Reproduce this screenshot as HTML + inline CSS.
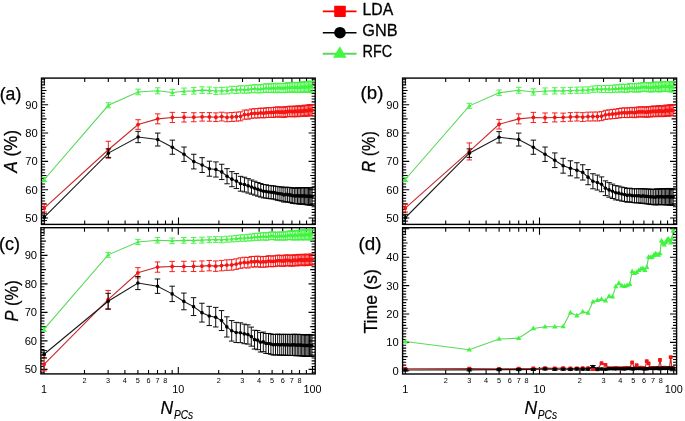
<!DOCTYPE html>
<html><head><meta charset="utf-8"><style>
html,body{margin:0;padding:0;background:#fff;}
body{width:685px;height:421px;overflow:hidden;font-family:"Liberation Sans", sans-serif;}
svg{display:block;filter:blur(0.35px);}
</style></head><body>
<svg width="685" height="421" viewBox="0 0 685 421" font-family='"Liberation Sans", sans-serif'>
<rect width="685" height="421" fill="#fff"/>
<path d="M322.8 11.4H356.5" stroke="#f00" stroke-width="1.6"/>
<rect x="334.2" y="5.8" width="11.6" height="11.2" rx="0.8" fill="#f00"/>
<path d="M322.8 32.7H356.5" stroke="#000" stroke-width="1.6"/>
<circle cx="340" cy="32.7" r="5.8" fill="#000"/>
<path d="M322.8 53.7H356.5" stroke="#5ad85a" stroke-width="2"/>
<path d="M339.8 46.3L346.5 57.7H333.1Z" fill="#40f840"/>
<g stroke="#000" stroke-width="0.3">
<text x="362.6" y="15.4" font-size="17" textLength="30.7" lengthAdjust="spacingAndGlyphs">LDA</text>
<text x="362.3" y="35.6" font-size="17" textLength="35.3" lengthAdjust="spacingAndGlyphs">GNB</text>
<text x="362.6" y="56.7" font-size="17" textLength="29.6" lengthAdjust="spacingAndGlyphs">RFC</text>
</g>
<text x="-0.3" y="99.6" font-size="18.5" textLength="21.6" lengthAdjust="spacingAndGlyphs" stroke="#000" stroke-width="0.25">(a)</text>
<text x="360.6" y="99.3" font-size="18.5" textLength="22.8" lengthAdjust="spacingAndGlyphs" stroke="#000" stroke-width="0.25">(b)</text>
<text x="-0.9" y="250" font-size="18.5" textLength="21" lengthAdjust="spacingAndGlyphs" stroke="#000" stroke-width="0.25">(c)</text>
<text x="358.6" y="250.4" font-size="18.5" textLength="23" lengthAdjust="spacingAndGlyphs" stroke="#000" stroke-width="0.25">(d)</text>
<text transform="translate(16.8 172.8) rotate(-90)" font-size="17.5" textLength="42.8" lengthAdjust="spacingAndGlyphs" stroke="#000" stroke-width="0.25"><tspan font-style="italic">A</tspan> (%)</text>
<text transform="translate(375.4 172.4) rotate(-90)" font-size="17.5" textLength="41.2" lengthAdjust="spacingAndGlyphs" stroke="#000" stroke-width="0.25"><tspan font-style="italic">R</tspan> (%)</text>
<text transform="translate(17.6 321.4) rotate(-90)" font-size="17.5" textLength="41" lengthAdjust="spacingAndGlyphs" stroke="#000" stroke-width="0.25"><tspan font-style="italic">P</tspan> (%)</text>
<text transform="translate(376.5 333.6) rotate(-90)" font-size="17.5" textLength="64.4" lengthAdjust="spacingAndGlyphs" stroke="#000" stroke-width="0.25">Time (s)</text>
<text x="160.6" y="414.1" font-size="17.5" font-style="italic" stroke="#000" stroke-width="0.2">N</text>
<text x="174" y="419.3" font-size="12.2" font-style="italic" textLength="19.2" lengthAdjust="spacingAndGlyphs" stroke="#000" stroke-width="0.15">PCs</text>
<text x="524.4" y="414.2" font-size="17.5" font-style="italic" stroke="#000" stroke-width="0.2">N</text>
<text x="537.8" y="419.4" font-size="12.2" font-style="italic" textLength="19.2" lengthAdjust="spacingAndGlyphs" stroke="#000" stroke-width="0.15">PCs</text>
<path d="M41.5 223.69h3.6M315.2 223.69h-3.6M41.5 220.85h3.6M315.2 220.85h-3.6M41.5 218.02h6.6M315.2 218.02h-6.6M41.5 215.19h3.6M315.2 215.19h-3.6M41.5 212.35h3.6M315.2 212.35h-3.6M41.5 209.52h3.6M315.2 209.52h-3.6M41.5 206.69h3.6M315.2 206.69h-3.6M41.5 203.86h5M315.2 203.86h-5M41.5 201.02h3.6M315.2 201.02h-3.6M41.5 198.19h3.6M315.2 198.19h-3.6M41.5 195.36h3.6M315.2 195.36h-3.6M41.5 192.52h3.6M315.2 192.52h-3.6M41.5 189.69h6.6M315.2 189.69h-6.6M41.5 186.86h3.6M315.2 186.86h-3.6M41.5 184.02h3.6M315.2 184.02h-3.6M41.5 181.19h3.6M315.2 181.19h-3.6M41.5 178.36h3.6M315.2 178.36h-3.6M41.5 175.53h5M315.2 175.53h-5M41.5 172.69h3.6M315.2 172.69h-3.6M41.5 169.86h3.6M315.2 169.86h-3.6M41.5 167.03h3.6M315.2 167.03h-3.6M41.5 164.19h3.6M315.2 164.19h-3.6M41.5 161.36h6.6M315.2 161.36h-6.6M41.5 158.53h3.6M315.2 158.53h-3.6M41.5 155.69h3.6M315.2 155.69h-3.6M41.5 152.86h3.6M315.2 152.86h-3.6M41.5 150.03h3.6M315.2 150.03h-3.6M41.5 147.19h5M315.2 147.19h-5M41.5 144.36h3.6M315.2 144.36h-3.6M41.5 141.53h3.6M315.2 141.53h-3.6M41.5 138.7h3.6M315.2 138.7h-3.6M41.5 135.86h3.6M315.2 135.86h-3.6M41.5 133.03h6.6M315.2 133.03h-6.6M41.5 130.2h3.6M315.2 130.2h-3.6M41.5 127.36h3.6M315.2 127.36h-3.6M41.5 124.53h3.6M315.2 124.53h-3.6M41.5 121.7h3.6M315.2 121.7h-3.6M41.5 118.87h5M315.2 118.87h-5M41.5 116.03h3.6M315.2 116.03h-3.6M41.5 113.2h3.6M315.2 113.2h-3.6M41.5 110.37h3.6M315.2 110.37h-3.6M41.5 107.53h3.6M315.2 107.53h-3.6M41.5 104.7h6.6M315.2 104.7h-6.6M41.5 101.87h3.6M315.2 101.87h-3.6M41.5 99.03h3.6M315.2 99.03h-3.6M41.5 96.2h3.6M315.2 96.2h-3.6M41.5 93.37h3.6M315.2 93.37h-3.6M41.5 90.53h5M315.2 90.53h-5M41.5 87.7h3.6M315.2 87.7h-3.6M41.5 84.87h3.6M315.2 84.87h-3.6M41.5 82.04h3.6M315.2 82.04h-3.6M41.5 79.2h3.6M315.2 79.2h-3.6M44.3 224.4v-7M44.3 78.1v7M84.7 224.4v-4M84.7 78.1v4M108.33 224.4v-4M108.33 78.1v4M125.1 224.4v-4M125.1 78.1v4M138.1 224.4v-4M138.1 78.1v4M148.73 224.4v-4M148.73 78.1v4M157.71 224.4v-4M157.71 78.1v4M165.49 224.4v-4M165.49 78.1v4M172.36 224.4v-4M172.36 78.1v4M178.5 224.4v-7M178.5 78.1v7M218.9 224.4v-4M218.9 78.1v4M242.53 224.4v-4M242.53 78.1v4M259.3 224.4v-4M259.3 78.1v4M272.3 224.4v-4M272.3 78.1v4M282.93 224.4v-4M282.93 78.1v4M291.91 224.4v-4M291.91 78.1v4M299.69 224.4v-4M299.69 78.1v4M306.56 224.4v-4M306.56 78.1v4M312.7 224.4v-7M312.7 78.1v7" stroke="#000" stroke-width="1.1" fill="none"/>
<rect x="41.5" y="78.1" width="273.7" height="146.3" fill="none" stroke="#000" stroke-width="1.4"/>
<text x="37.7" y="222.02" font-size="11.2" text-anchor="end">50</text>
<text x="37.7" y="193.69" font-size="11.2" text-anchor="end">60</text>
<text x="37.7" y="165.36" font-size="11.2" text-anchor="end">70</text>
<text x="37.7" y="137.03" font-size="11.2" text-anchor="end">80</text>
<text x="37.7" y="108.7" font-size="11.2" text-anchor="end">90</text>
<path d="M402.6 223.69h3.6M676.6 223.69h-3.6M402.6 220.85h3.6M676.6 220.85h-3.6M402.6 218.02h6.6M676.6 218.02h-6.6M402.6 215.19h3.6M676.6 215.19h-3.6M402.6 212.35h3.6M676.6 212.35h-3.6M402.6 209.52h3.6M676.6 209.52h-3.6M402.6 206.69h3.6M676.6 206.69h-3.6M402.6 203.86h5M676.6 203.86h-5M402.6 201.02h3.6M676.6 201.02h-3.6M402.6 198.19h3.6M676.6 198.19h-3.6M402.6 195.36h3.6M676.6 195.36h-3.6M402.6 192.52h3.6M676.6 192.52h-3.6M402.6 189.69h6.6M676.6 189.69h-6.6M402.6 186.86h3.6M676.6 186.86h-3.6M402.6 184.02h3.6M676.6 184.02h-3.6M402.6 181.19h3.6M676.6 181.19h-3.6M402.6 178.36h3.6M676.6 178.36h-3.6M402.6 175.53h5M676.6 175.53h-5M402.6 172.69h3.6M676.6 172.69h-3.6M402.6 169.86h3.6M676.6 169.86h-3.6M402.6 167.03h3.6M676.6 167.03h-3.6M402.6 164.19h3.6M676.6 164.19h-3.6M402.6 161.36h6.6M676.6 161.36h-6.6M402.6 158.53h3.6M676.6 158.53h-3.6M402.6 155.69h3.6M676.6 155.69h-3.6M402.6 152.86h3.6M676.6 152.86h-3.6M402.6 150.03h3.6M676.6 150.03h-3.6M402.6 147.19h5M676.6 147.19h-5M402.6 144.36h3.6M676.6 144.36h-3.6M402.6 141.53h3.6M676.6 141.53h-3.6M402.6 138.7h3.6M676.6 138.7h-3.6M402.6 135.86h3.6M676.6 135.86h-3.6M402.6 133.03h6.6M676.6 133.03h-6.6M402.6 130.2h3.6M676.6 130.2h-3.6M402.6 127.36h3.6M676.6 127.36h-3.6M402.6 124.53h3.6M676.6 124.53h-3.6M402.6 121.7h3.6M676.6 121.7h-3.6M402.6 118.87h5M676.6 118.87h-5M402.6 116.03h3.6M676.6 116.03h-3.6M402.6 113.2h3.6M676.6 113.2h-3.6M402.6 110.37h3.6M676.6 110.37h-3.6M402.6 107.53h3.6M676.6 107.53h-3.6M402.6 104.7h6.6M676.6 104.7h-6.6M402.6 101.87h3.6M676.6 101.87h-3.6M402.6 99.03h3.6M676.6 99.03h-3.6M402.6 96.2h3.6M676.6 96.2h-3.6M402.6 93.37h3.6M676.6 93.37h-3.6M402.6 90.53h5M676.6 90.53h-5M402.6 87.7h3.6M676.6 87.7h-3.6M402.6 84.87h3.6M676.6 84.87h-3.6M402.6 82.04h3.6M676.6 82.04h-3.6M402.6 79.2h3.6M676.6 79.2h-3.6M405.3 224.4v-7M405.3 78.1v7M445.7 224.4v-4M445.7 78.1v4M469.33 224.4v-4M469.33 78.1v4M486.1 224.4v-4M486.1 78.1v4M499.1 224.4v-4M499.1 78.1v4M509.73 224.4v-4M509.73 78.1v4M518.71 224.4v-4M518.71 78.1v4M526.49 224.4v-4M526.49 78.1v4M533.36 224.4v-4M533.36 78.1v4M539.5 224.4v-7M539.5 78.1v7M579.9 224.4v-4M579.9 78.1v4M603.53 224.4v-4M603.53 78.1v4M620.3 224.4v-4M620.3 78.1v4M633.3 224.4v-4M633.3 78.1v4M643.93 224.4v-4M643.93 78.1v4M652.91 224.4v-4M652.91 78.1v4M660.69 224.4v-4M660.69 78.1v4M667.56 224.4v-4M667.56 78.1v4M673.7 224.4v-7M673.7 78.1v7" stroke="#000" stroke-width="1.1" fill="none"/>
<rect x="402.6" y="78.1" width="274" height="146.3" fill="none" stroke="#000" stroke-width="1.4"/>
<text x="398.8" y="222.02" font-size="11.2" text-anchor="end">50</text>
<text x="398.8" y="193.69" font-size="11.2" text-anchor="end">60</text>
<text x="398.8" y="165.36" font-size="11.2" text-anchor="end">70</text>
<text x="398.8" y="137.03" font-size="11.2" text-anchor="end">80</text>
<text x="398.8" y="108.7" font-size="11.2" text-anchor="end">90</text>
<path d="M40.9 372.25h3.6M315.2 372.25h-3.6M40.9 369.4h6.6M315.2 369.4h-6.6M40.9 366.55h3.6M315.2 366.55h-3.6M40.9 363.7h3.6M315.2 363.7h-3.6M40.9 360.85h3.6M315.2 360.85h-3.6M40.9 358h3.6M315.2 358h-3.6M40.9 355.15h5M315.2 355.15h-5M40.9 352.3h3.6M315.2 352.3h-3.6M40.9 349.45h3.6M315.2 349.45h-3.6M40.9 346.6h3.6M315.2 346.6h-3.6M40.9 343.75h3.6M315.2 343.75h-3.6M40.9 340.9h6.6M315.2 340.9h-6.6M40.9 338.05h3.6M315.2 338.05h-3.6M40.9 335.2h3.6M315.2 335.2h-3.6M40.9 332.35h3.6M315.2 332.35h-3.6M40.9 329.5h3.6M315.2 329.5h-3.6M40.9 326.65h5M315.2 326.65h-5M40.9 323.8h3.6M315.2 323.8h-3.6M40.9 320.95h3.6M315.2 320.95h-3.6M40.9 318.1h3.6M315.2 318.1h-3.6M40.9 315.25h3.6M315.2 315.25h-3.6M40.9 312.4h6.6M315.2 312.4h-6.6M40.9 309.55h3.6M315.2 309.55h-3.6M40.9 306.7h3.6M315.2 306.7h-3.6M40.9 303.85h3.6M315.2 303.85h-3.6M40.9 301h3.6M315.2 301h-3.6M40.9 298.15h5M315.2 298.15h-5M40.9 295.3h3.6M315.2 295.3h-3.6M40.9 292.45h3.6M315.2 292.45h-3.6M40.9 289.6h3.6M315.2 289.6h-3.6M40.9 286.75h3.6M315.2 286.75h-3.6M40.9 283.9h6.6M315.2 283.9h-6.6M40.9 281.05h3.6M315.2 281.05h-3.6M40.9 278.2h3.6M315.2 278.2h-3.6M40.9 275.35h3.6M315.2 275.35h-3.6M40.9 272.5h3.6M315.2 272.5h-3.6M40.9 269.65h5M315.2 269.65h-5M40.9 266.8h3.6M315.2 266.8h-3.6M40.9 263.95h3.6M315.2 263.95h-3.6M40.9 261.1h3.6M315.2 261.1h-3.6M40.9 258.25h3.6M315.2 258.25h-3.6M40.9 255.4h6.6M315.2 255.4h-6.6M40.9 252.55h3.6M315.2 252.55h-3.6M40.9 249.7h3.6M315.2 249.7h-3.6M40.9 246.85h3.6M315.2 246.85h-3.6M40.9 244h3.6M315.2 244h-3.6M40.9 241.15h5M315.2 241.15h-5M40.9 238.3h3.6M315.2 238.3h-3.6M40.9 235.45h3.6M315.2 235.45h-3.6M40.9 232.6h3.6M315.2 232.6h-3.6M40.9 229.75h3.6M315.2 229.75h-3.6M44.1 373.9v-7M44.1 227.7v7M84.5 373.9v-4M84.5 227.7v4M108.13 373.9v-4M108.13 227.7v4M124.9 373.9v-4M124.9 227.7v4M137.9 373.9v-4M137.9 227.7v4M148.53 373.9v-4M148.53 227.7v4M157.51 373.9v-4M157.51 227.7v4M165.29 373.9v-4M165.29 227.7v4M172.16 373.9v-4M172.16 227.7v4M178.3 373.9v-7M178.3 227.7v7M218.7 373.9v-4M218.7 227.7v4M242.33 373.9v-4M242.33 227.7v4M259.1 373.9v-4M259.1 227.7v4M272.1 373.9v-4M272.1 227.7v4M282.73 373.9v-4M282.73 227.7v4M291.71 373.9v-4M291.71 227.7v4M299.49 373.9v-4M299.49 227.7v4M306.36 373.9v-4M306.36 227.7v4M312.5 373.9v-7M312.5 227.7v7" stroke="#000" stroke-width="1.1" fill="none"/>
<rect x="40.9" y="227.7" width="274.3" height="146.2" fill="none" stroke="#000" stroke-width="1.4"/>
<text x="37.1" y="373.4" font-size="11.2" text-anchor="end">50</text>
<text x="37.1" y="344.9" font-size="11.2" text-anchor="end">60</text>
<text x="37.1" y="316.4" font-size="11.2" text-anchor="end">70</text>
<text x="37.1" y="287.9" font-size="11.2" text-anchor="end">80</text>
<text x="37.1" y="259.4" font-size="11.2" text-anchor="end">90</text>
<text x="84.5" y="383" font-size="7.3" text-anchor="middle">2</text>
<text x="108.13" y="383" font-size="7.3" text-anchor="middle">3</text>
<text x="124.9" y="383" font-size="7.3" text-anchor="middle">4</text>
<text x="137.9" y="383" font-size="7.3" text-anchor="middle">5</text>
<text x="148.53" y="383" font-size="7.3" text-anchor="middle">6</text>
<text x="157.51" y="383" font-size="7.3" text-anchor="middle">7</text>
<text x="165.29" y="383" font-size="7.3" text-anchor="middle">8</text>
<text x="218.7" y="383" font-size="7.3" text-anchor="middle">2</text>
<text x="242.33" y="383" font-size="7.3" text-anchor="middle">3</text>
<text x="259.1" y="383" font-size="7.3" text-anchor="middle">4</text>
<text x="272.1" y="383" font-size="7.3" text-anchor="middle">5</text>
<text x="282.73" y="383" font-size="7.3" text-anchor="middle">6</text>
<text x="291.71" y="383" font-size="7.3" text-anchor="middle">7</text>
<text x="299.49" y="383" font-size="7.3" text-anchor="middle">8</text>
<text x="44.1" y="393" font-size="10.8" text-anchor="middle">1</text>
<text x="178.3" y="393" font-size="10.8" text-anchor="middle">10</text>
<text x="312.5" y="393" font-size="10.8" text-anchor="middle">100</text>
<path d="M402.6 370.8h6.6M676.6 370.8h-6.6M402.6 367.96h3.6M676.6 367.96h-3.6M402.6 365.12h3.6M676.6 365.12h-3.6M402.6 362.28h3.6M676.6 362.28h-3.6M402.6 359.44h3.6M676.6 359.44h-3.6M402.6 356.6h5M676.6 356.6h-5M402.6 353.76h3.6M676.6 353.76h-3.6M402.6 350.92h3.6M676.6 350.92h-3.6M402.6 348.08h3.6M676.6 348.08h-3.6M402.6 345.24h3.6M676.6 345.24h-3.6M402.6 342.4h6.6M676.6 342.4h-6.6M402.6 339.56h3.6M676.6 339.56h-3.6M402.6 336.72h3.6M676.6 336.72h-3.6M402.6 333.88h3.6M676.6 333.88h-3.6M402.6 331.04h3.6M676.6 331.04h-3.6M402.6 328.2h5M676.6 328.2h-5M402.6 325.36h3.6M676.6 325.36h-3.6M402.6 322.52h3.6M676.6 322.52h-3.6M402.6 319.68h3.6M676.6 319.68h-3.6M402.6 316.84h3.6M676.6 316.84h-3.6M402.6 314h6.6M676.6 314h-6.6M402.6 311.16h3.6M676.6 311.16h-3.6M402.6 308.32h3.6M676.6 308.32h-3.6M402.6 305.48h3.6M676.6 305.48h-3.6M402.6 302.64h3.6M676.6 302.64h-3.6M402.6 299.8h5M676.6 299.8h-5M402.6 296.96h3.6M676.6 296.96h-3.6M402.6 294.12h3.6M676.6 294.12h-3.6M402.6 291.28h3.6M676.6 291.28h-3.6M402.6 288.44h3.6M676.6 288.44h-3.6M402.6 285.6h6.6M676.6 285.6h-6.6M402.6 282.76h3.6M676.6 282.76h-3.6M402.6 279.92h3.6M676.6 279.92h-3.6M402.6 277.08h3.6M676.6 277.08h-3.6M402.6 274.24h3.6M676.6 274.24h-3.6M402.6 271.4h5M676.6 271.4h-5M402.6 268.56h3.6M676.6 268.56h-3.6M402.6 265.72h3.6M676.6 265.72h-3.6M402.6 262.88h3.6M676.6 262.88h-3.6M402.6 260.04h3.6M676.6 260.04h-3.6M402.6 257.2h6.6M676.6 257.2h-6.6M402.6 254.36h3.6M676.6 254.36h-3.6M402.6 251.52h3.6M676.6 251.52h-3.6M402.6 248.68h3.6M676.6 248.68h-3.6M402.6 245.84h3.6M676.6 245.84h-3.6M402.6 243h5M676.6 243h-5M402.6 240.16h3.6M676.6 240.16h-3.6M402.6 237.32h3.6M676.6 237.32h-3.6M402.6 234.48h3.6M676.6 234.48h-3.6M402.6 231.64h3.6M676.6 231.64h-3.6M402.6 228.8h6.6M676.6 228.8h-6.6M405.3 374v-7M405.3 227.7v7M445.7 374v-4M445.7 227.7v4M469.33 374v-4M469.33 227.7v4M486.1 374v-4M486.1 227.7v4M499.1 374v-4M499.1 227.7v4M509.73 374v-4M509.73 227.7v4M518.71 374v-4M518.71 227.7v4M526.49 374v-4M526.49 227.7v4M533.36 374v-4M533.36 227.7v4M539.5 374v-7M539.5 227.7v7M579.9 374v-4M579.9 227.7v4M603.53 374v-4M603.53 227.7v4M620.3 374v-4M620.3 227.7v4M633.3 374v-4M633.3 227.7v4M643.93 374v-4M643.93 227.7v4M652.91 374v-4M652.91 227.7v4M660.69 374v-4M660.69 227.7v4M667.56 374v-4M667.56 227.7v4M673.7 374v-7M673.7 227.7v7" stroke="#000" stroke-width="1.1" fill="none"/>
<rect x="402.6" y="227.7" width="274" height="146.3" fill="none" stroke="#000" stroke-width="1.4"/>
<text x="398.8" y="374.8" font-size="11.2" text-anchor="end">0</text>
<text x="398.8" y="346.4" font-size="11.2" text-anchor="end">10</text>
<text x="398.8" y="318" font-size="11.2" text-anchor="end">20</text>
<text x="398.8" y="289.6" font-size="11.2" text-anchor="end">30</text>
<text x="398.8" y="261.2" font-size="11.2" text-anchor="end">40</text>
<text x="445.7" y="383" font-size="7.3" text-anchor="middle">2</text>
<text x="469.33" y="383" font-size="7.3" text-anchor="middle">3</text>
<text x="486.1" y="383" font-size="7.3" text-anchor="middle">4</text>
<text x="499.1" y="383" font-size="7.3" text-anchor="middle">5</text>
<text x="509.73" y="383" font-size="7.3" text-anchor="middle">6</text>
<text x="518.71" y="383" font-size="7.3" text-anchor="middle">7</text>
<text x="526.49" y="383" font-size="7.3" text-anchor="middle">8</text>
<text x="579.9" y="383" font-size="7.3" text-anchor="middle">2</text>
<text x="603.53" y="383" font-size="7.3" text-anchor="middle">3</text>
<text x="620.3" y="383" font-size="7.3" text-anchor="middle">4</text>
<text x="633.3" y="383" font-size="7.3" text-anchor="middle">5</text>
<text x="643.93" y="383" font-size="7.3" text-anchor="middle">6</text>
<text x="652.91" y="383" font-size="7.3" text-anchor="middle">7</text>
<text x="660.69" y="383" font-size="7.3" text-anchor="middle">8</text>
<text x="405.3" y="393" font-size="10.8" text-anchor="middle">1</text>
<text x="539.5" y="393" font-size="10.8" text-anchor="middle">10</text>
<text x="673.7" y="393" font-size="10.8" text-anchor="middle">100</text>
<path d="M44.3 208.1 L108.33 149.74 L138.1 124.53 L157.71 118.87 L172.36 117.45 L184.05 117.27 L193.79 117.22 L202.13 116.85 L209.43 116.91 L215.91 117.23 L221.74 116.59 L227.04 117.28 L231.9 116.99 L236.39 116.66 L240.55 116.33 L244.44 114.62 L248.08 114.57 L251.51 113.62 L254.75 113.33 L257.82 113.29 L260.74 112.84 L263.51 113.13 L266.16 112.63 L268.7 112.55 L271.12 112.46 L273.46 112.47 L275.7 112.06 L277.86 111.88 L279.94 112.19 L281.95 111.95 L283.89 112.38 L285.77 111.76 L287.59 111.73 L289.36 111.36 L291.07 111.38 L292.74 111.71 L294.36 111.51 L295.93 111.15 L297.47 111.58 L298.96 111.1 L300.42 111.24 L301.84 111.18 L303.23 111.12 L304.58 110.42 L305.91 110.86 L307.2 110.66 L308.47 110.45 L309.71 109.95 L310.92 110.53 L312.11 110.13" stroke="#c82828" stroke-width="1.1" fill="none"/>
<path d="M44.3 204.14V212.07M41.55 204.14h5.5M41.55 212.07h5.5M108.33 141.25V158.24M105.58 141.25h5.5M105.58 158.24h5.5M138.1 119.71V129.35M135.35 119.71h5.5M135.35 129.35h5.5M157.71 113.89V123.84M154.96 113.89h5.5M154.96 123.84h5.5M172.36 112.35V122.55M169.61 112.35h5.5M169.61 122.55h5.5M184.05 112.51V122.04M181.3 112.51h5.5M181.3 122.04h5.5M193.79 112.74V121.71M191.04 112.74h5.5M191.04 121.71h5.5M202.13 112.6V121.1M199.38 112.6h5.5M199.38 121.1h5.5M209.43 112.61V121.21M206.68 112.61h5.5M206.68 121.21h5.5M215.91 112.89V121.58M213.16 112.89h5.5M213.16 121.58h5.5M221.74 112.21V120.98M218.99 112.21h5.5M218.99 120.98h5.5M227.04 112.86V121.71M224.29 112.86h5.5M224.29 121.71h5.5M231.9 112.53V121.45M229.15 112.53h5.5M229.15 121.45h5.5M236.39 112.17V121.15M233.64 112.17h5.5M233.64 121.15h5.5M240.55 111.81V120.85M237.8 111.81h5.5M237.8 120.85h5.5M244.44 110.07V119.18M241.69 110.07h5.5M241.69 119.18h5.5M248.08 109.97V119.17M245.33 109.97h5.5M245.33 119.17h5.5M251.51 108.98V118.27M248.76 108.98h5.5M248.76 118.27h5.5M254.75 108.65V118.01M252 108.65h5.5M252 118.01h5.5M257.82 108.57V118.01M255.07 108.57h5.5M255.07 118.01h5.5M260.74 108.08V117.59M257.99 108.08h5.5M257.99 117.59h5.5M263.51 108.34V117.92M260.76 108.34h5.5M260.76 117.92h5.5M266.16 107.81V117.46M263.41 107.81h5.5M263.41 117.46h5.5M268.7 107.7V117.4M265.95 107.7h5.5M265.95 117.4h5.5M271.12 107.58V117.35M268.37 107.58h5.5M268.37 117.35h5.5M273.46 107.56V117.38M270.71 107.56h5.5M270.71 117.38h5.5M275.7 107.12V116.99M272.95 107.12h5.5M272.95 116.99h5.5M277.86 106.91V116.84M275.11 106.91h5.5M275.11 116.84h5.5M279.94 107.2V117.18M277.19 107.2h5.5M277.19 117.18h5.5M281.95 106.93V116.96M279.2 106.93h5.5M279.2 116.96h5.5M283.89 107.34V117.42M281.14 107.34h5.5M281.14 117.42h5.5M285.77 106.7V116.82M283.02 106.7h5.5M283.02 116.82h5.5M287.59 106.65V116.81M284.84 106.65h5.5M284.84 116.81h5.5M289.36 106.26V116.47M286.61 106.26h5.5M286.61 116.47h5.5M291.07 106.26V116.51M288.32 106.26h5.5M288.32 116.51h5.5M292.74 106.57V116.86M289.99 106.57h5.5M289.99 116.86h5.5M294.36 106.34V116.67M291.61 106.34h5.5M291.61 116.67h5.5M295.93 105.96V116.33M293.18 105.96h5.5M293.18 116.33h5.5M297.47 106.38V116.79M294.72 106.38h5.5M294.72 116.79h5.5M298.96 105.88V116.32M296.21 105.88h5.5M296.21 116.32h5.5M300.42 106V116.48M297.67 106h5.5M297.67 116.48h5.5M301.84 105.92V116.43M299.09 105.92h5.5M299.09 116.43h5.5M303.23 105.85V116.4M300.48 105.85h5.5M300.48 116.4h5.5M304.58 105.13V115.71M301.83 105.13h5.5M301.83 115.71h5.5M305.91 105.55V116.17M303.16 105.55h5.5M303.16 116.17h5.5M307.2 105.34V115.99M304.45 105.34h5.5M304.45 115.99h5.5M308.47 105.11V115.79M305.72 105.11h5.5M305.72 115.79h5.5M309.71 104.59V115.3M306.96 104.59h5.5M306.96 115.3h5.5M310.92 105.16V115.9M308.17 105.16h5.5M308.17 115.9h5.5M312.11 104.74V115.51M309.36 104.74h5.5M309.36 115.51h5.5" stroke="#f41414" stroke-width="0.95" fill="none"/>
<g fill="#f41414"><circle cx="44.3" cy="208.1" r="1.9"/><circle cx="108.33" cy="149.74" r="1.9"/><circle cx="138.1" cy="124.53" r="1.9"/><circle cx="157.71" cy="118.87" r="1.9"/><circle cx="172.36" cy="117.45" r="1.9"/><circle cx="184.05" cy="117.27" r="1.9"/><circle cx="193.79" cy="117.22" r="1.9"/><circle cx="202.13" cy="116.85" r="1.9"/><circle cx="209.43" cy="116.91" r="1.9"/><circle cx="215.91" cy="117.23" r="1.9"/><circle cx="221.74" cy="116.59" r="1.9"/><circle cx="227.04" cy="117.28" r="1.9"/><circle cx="231.9" cy="116.99" r="1.9"/><circle cx="236.39" cy="116.66" r="1.9"/><circle cx="240.55" cy="116.33" r="1.9"/><circle cx="244.44" cy="114.62" r="1.9"/><circle cx="248.08" cy="114.57" r="1.9"/><circle cx="251.51" cy="113.62" r="1.9"/><circle cx="254.75" cy="113.33" r="1.9"/><circle cx="257.82" cy="113.29" r="1.9"/><circle cx="260.74" cy="112.84" r="1.9"/><circle cx="263.51" cy="113.13" r="1.9"/><circle cx="266.16" cy="112.63" r="1.9"/><circle cx="268.7" cy="112.55" r="1.9"/><circle cx="271.12" cy="112.46" r="1.9"/><circle cx="273.46" cy="112.47" r="1.9"/><circle cx="275.7" cy="112.06" r="1.9"/><circle cx="277.86" cy="111.88" r="1.9"/><circle cx="279.94" cy="112.19" r="1.9"/><circle cx="281.95" cy="111.95" r="1.9"/><circle cx="283.89" cy="112.38" r="1.9"/><circle cx="285.77" cy="111.76" r="1.9"/><circle cx="287.59" cy="111.73" r="1.9"/><circle cx="289.36" cy="111.36" r="1.9"/><circle cx="291.07" cy="111.38" r="1.9"/><circle cx="292.74" cy="111.71" r="1.9"/><circle cx="294.36" cy="111.51" r="1.9"/><circle cx="295.93" cy="111.15" r="1.9"/><circle cx="297.47" cy="111.58" r="1.9"/><circle cx="298.96" cy="111.1" r="1.9"/><circle cx="300.42" cy="111.24" r="1.9"/><circle cx="301.84" cy="111.18" r="1.9"/><circle cx="303.23" cy="111.12" r="1.9"/><circle cx="304.58" cy="110.42" r="1.9"/><circle cx="305.91" cy="110.86" r="1.9"/><circle cx="307.2" cy="110.66" r="1.9"/><circle cx="308.47" cy="110.45" r="1.9"/><circle cx="309.71" cy="109.95" r="1.9"/><circle cx="310.92" cy="110.53" r="1.9"/><circle cx="312.11" cy="110.13" r="1.9"/></g>
<path d="M44.3 217.17 L108.33 153.14 L138.1 137 L157.71 139.55 L172.36 147.19 L184.05 154.24 L193.79 161.6 L202.13 165.05 L209.43 168.7 L215.91 169.48 L221.74 171.91 L227.04 176.21 L231.9 179.16 L236.39 181.09 L240.55 183.75 L244.44 184.58 L248.08 185.85 L251.51 187.08 L254.75 188.18 L257.82 189.33 L260.74 190.3 L263.51 191.18 L266.16 191.46 L268.7 191.99 L271.12 192.3 L273.46 192.42 L275.7 193.01 L277.86 193.51 L279.94 193.76 L281.95 194.04 L283.89 194.89 L285.77 194.41 L287.59 194.74 L289.36 194.89 L291.07 195.17 L292.74 195.73 L294.36 195.73 L295.93 195.98 L297.47 195.53 L298.96 196.01 L300.42 196.01 L301.84 195.89 L303.23 195.93 L304.58 195.86 L305.91 196.19 L307.2 196.32 L308.47 196.27 L309.71 196.39 L310.92 196.25 L312.11 196.61" stroke="#1a1a1a" stroke-width="1.1" fill="none"/>
<path d="M44.3 213.77V220.57M41.55 213.77h5.5M41.55 220.57h5.5M108.33 148.89V157.39M105.58 148.89h5.5M105.58 157.39h5.5M138.1 131.33V142.66M135.35 131.33h5.5M135.35 142.66h5.5M157.71 133.07V146.02M154.96 133.07h5.5M154.96 146.02h5.5M172.36 140.11V154.28M169.61 140.11h5.5M169.61 154.28h5.5M184.05 147.02V161.45M181.3 147.02h5.5M181.3 161.45h5.5M193.79 154.27V168.93M191.04 154.27h5.5M191.04 168.93h5.5M202.13 157.63V172.48M199.38 157.63h5.5M199.38 172.48h5.5M209.43 161.19V176.21M206.68 161.19h5.5M206.68 176.21h5.5M215.91 161.9V177.06M213.16 161.9h5.5M213.16 177.06h5.5M221.74 164.26V179.56M218.99 164.26h5.5M218.99 179.56h5.5M227.04 168.63V183.79M224.29 168.63h5.5M224.29 183.79h5.5M231.9 171.64V186.69M229.15 171.64h5.5M229.15 186.69h5.5M236.39 173.62V188.55M233.64 173.62h5.5M233.64 188.55h5.5M240.55 176.34V191.17M237.8 176.34h5.5M237.8 191.17h5.5M244.44 177.22V191.95M241.69 177.22h5.5M241.69 191.95h5.5M248.08 178.62V193.08M245.33 178.62h5.5M245.33 193.08h5.5M251.51 179.99V194.18M248.76 179.99h5.5M248.76 194.18h5.5M254.75 181.21V195.15M252 181.21h5.5M252 195.15h5.5M257.82 182.48V196.19M255.07 182.48h5.5M255.07 196.19h5.5M260.74 183.53V197.07M257.99 183.53h5.5M257.99 197.07h5.5M263.51 184.47V197.89M260.76 184.47h5.5M260.76 197.89h5.5M266.16 184.81V198.11M263.41 184.81h5.5M263.41 198.11h5.5M268.7 185.4V198.59M265.95 185.4h5.5M265.95 198.59h5.5M271.12 185.76V198.84M268.37 185.76h5.5M268.37 198.84h5.5M273.46 185.84V199M270.71 185.84h5.5M270.71 199h5.5M275.7 186.31V199.71M272.95 186.31h5.5M272.95 199.71h5.5M277.86 186.69V200.33M275.11 186.69h5.5M275.11 200.33h5.5M279.94 186.82V200.7M277.19 186.82h5.5M277.19 200.7h5.5M281.95 186.99V201.09M279.2 186.99h5.5M279.2 201.09h5.5M283.89 187.73V202.04M281.14 187.73h5.5M281.14 202.04h5.5M285.77 187.15V201.67M283.02 187.15h5.5M283.02 201.67h5.5M287.59 187.38V202.1M284.84 187.38h5.5M284.84 202.1h5.5M289.36 187.43V202.35M286.61 187.43h5.5M286.61 202.35h5.5M291.07 187.62V202.73M288.32 187.62h5.5M288.32 202.73h5.5M292.74 188.08V203.38M289.99 188.08h5.5M289.99 203.38h5.5M294.36 187.98V203.47M291.61 187.98h5.5M291.61 203.47h5.5M295.93 188.14V203.82M293.18 188.14h5.5M293.18 203.82h5.5M297.47 187.6V203.45M294.72 187.6h5.5M294.72 203.45h5.5M298.96 187.99V204.03M296.21 187.99h5.5M296.21 204.03h5.5M300.42 187.91V204.11M297.67 187.91h5.5M297.67 204.11h5.5M301.84 187.7V204.07M299.09 187.7h5.5M299.09 204.07h5.5M303.23 187.66V204.19M300.48 187.66h5.5M300.48 204.19h5.5M304.58 187.52V204.21M301.83 187.52h5.5M301.83 204.21h5.5M305.91 187.77V204.61M303.16 187.77h5.5M303.16 204.61h5.5M307.2 187.82V204.81M304.45 187.82h5.5M304.45 204.81h5.5M308.47 187.7V204.84M305.72 187.7h5.5M305.72 204.84h5.5M309.71 187.75V205.03M306.96 187.75h5.5M306.96 205.03h5.5M310.92 187.53V204.96M308.17 187.53h5.5M308.17 204.96h5.5M312.11 187.83V205.39M309.36 187.83h5.5M309.36 205.39h5.5" stroke="#000000" stroke-width="0.95" fill="none"/>
<g fill="#000000"><circle cx="44.3" cy="217.17" r="1.8"/><circle cx="108.33" cy="153.14" r="1.8"/><circle cx="138.1" cy="137" r="1.8"/><circle cx="157.71" cy="139.55" r="1.8"/><circle cx="172.36" cy="147.19" r="1.8"/><circle cx="184.05" cy="154.24" r="1.8"/><circle cx="193.79" cy="161.6" r="1.8"/><circle cx="202.13" cy="165.05" r="1.8"/><circle cx="209.43" cy="168.7" r="1.8"/><circle cx="215.91" cy="169.48" r="1.8"/><circle cx="221.74" cy="171.91" r="1.8"/><circle cx="227.04" cy="176.21" r="1.8"/><circle cx="231.9" cy="179.16" r="1.8"/><circle cx="236.39" cy="181.09" r="1.8"/><circle cx="240.55" cy="183.75" r="1.8"/><circle cx="244.44" cy="184.58" r="1.8"/><circle cx="248.08" cy="185.85" r="1.8"/><circle cx="251.51" cy="187.08" r="1.8"/><circle cx="254.75" cy="188.18" r="1.8"/><circle cx="257.82" cy="189.33" r="1.8"/><circle cx="260.74" cy="190.3" r="1.8"/><circle cx="263.51" cy="191.18" r="1.8"/><circle cx="266.16" cy="191.46" r="1.8"/><circle cx="268.7" cy="191.99" r="1.8"/><circle cx="271.12" cy="192.3" r="1.8"/><circle cx="273.46" cy="192.42" r="1.8"/><circle cx="275.7" cy="193.01" r="1.8"/><circle cx="277.86" cy="193.51" r="1.8"/><circle cx="279.94" cy="193.76" r="1.8"/><circle cx="281.95" cy="194.04" r="1.8"/><circle cx="283.89" cy="194.89" r="1.8"/><circle cx="285.77" cy="194.41" r="1.8"/><circle cx="287.59" cy="194.74" r="1.8"/><circle cx="289.36" cy="194.89" r="1.8"/><circle cx="291.07" cy="195.17" r="1.8"/><circle cx="292.74" cy="195.73" r="1.8"/><circle cx="294.36" cy="195.73" r="1.8"/><circle cx="295.93" cy="195.98" r="1.8"/><circle cx="297.47" cy="195.53" r="1.8"/><circle cx="298.96" cy="196.01" r="1.8"/><circle cx="300.42" cy="196.01" r="1.8"/><circle cx="301.84" cy="195.89" r="1.8"/><circle cx="303.23" cy="195.93" r="1.8"/><circle cx="304.58" cy="195.86" r="1.8"/><circle cx="305.91" cy="196.19" r="1.8"/><circle cx="307.2" cy="196.32" r="1.8"/><circle cx="308.47" cy="196.27" r="1.8"/><circle cx="309.71" cy="196.39" r="1.8"/><circle cx="310.92" cy="196.25" r="1.8"/><circle cx="312.11" cy="196.61" r="1.8"/></g>
<path d="M44.3 179.49 L108.33 105.27 L138.1 91.95 L157.71 90.82 L172.36 92.52 L184.05 91.25 L193.79 90.83 L202.13 90.12 L209.43 90.33 L215.91 91.07 L221.74 90.7 L227.04 90.49 L231.9 89.68 L236.39 89.88 L240.55 89.37 L244.44 89.51 L248.08 89.33 L251.51 88.9 L254.75 88.45 L257.82 88.94 L260.74 88.76 L263.51 88.32 L266.16 87.96 L268.7 88.18 L271.12 88.25 L273.46 87.68 L275.7 88.39 L277.86 87.62 L279.94 88.03 L281.95 88.08 L283.89 88.03 L285.77 87.8 L287.59 87.31 L289.36 87.78 L291.07 87.38 L292.74 87.27 L294.36 87.44 L295.93 87.24 L297.47 87.6 L298.96 87.55 L300.42 87.37 L301.84 86.92 L303.23 87.08 L304.58 87.13 L305.91 86.86 L307.2 86.92 L308.47 87.01 L309.71 86.54 L310.92 86.58 L312.11 86.93" stroke="#5ad85a" stroke-width="1.1" fill="none"/>
<path d="M44.3 177.51V181.47M41.55 177.51h5.5M41.55 181.47h5.5M108.33 102.72V107.82M105.58 102.72h5.5M105.58 107.82h5.5M138.1 89.14V94.76M135.35 89.14h5.5M135.35 94.76h5.5M157.71 87.83V93.8M154.96 87.83h5.5M154.96 93.8h5.5M172.36 89.4V95.63M169.61 89.4h5.5M169.61 95.63h5.5M184.05 88.08V94.42M181.3 88.08h5.5M181.3 94.42h5.5M193.79 87.61V94.05M191.04 87.61h5.5M191.04 94.05h5.5M202.13 86.87V93.38M199.38 86.87h5.5M199.38 93.38h5.5M209.43 87.04V93.62M206.68 87.04h5.5M206.68 93.62h5.5M215.91 87.75V94.39M213.16 87.75h5.5M213.16 94.39h5.5M221.74 87.35V94.05M218.99 87.35h5.5M218.99 94.05h5.5M227.04 87.11V93.87M224.29 87.11h5.5M224.29 93.87h5.5M231.9 86.28V93.08M229.15 86.28h5.5M229.15 93.08h5.5M236.39 86.38V93.38M233.64 86.38h5.5M233.64 93.38h5.5M240.55 85.77V92.96M237.8 85.77h5.5M237.8 92.96h5.5M244.44 85.83V93.19M241.69 85.83h5.5M241.69 93.19h5.5M248.08 85.57V93.09M245.33 85.57h5.5M245.33 93.09h5.5M251.51 85.06V92.73M248.76 85.06h5.5M248.76 92.73h5.5M254.75 84.54V92.35M252 84.54h5.5M252 92.35h5.5M257.82 84.96V92.92M255.07 84.96h5.5M255.07 92.92h5.5M260.74 84.72V92.8M257.99 84.72h5.5M257.99 92.8h5.5M263.51 84.22V92.42M260.76 84.22h5.5M260.76 92.42h5.5M266.16 83.8V92.12M263.41 83.8h5.5M263.41 92.12h5.5M268.7 83.97V92.4M265.95 83.97h5.5M265.95 92.4h5.5M271.12 83.98V92.53M268.37 83.98h5.5M268.37 92.53h5.5M273.46 83.36V92M270.71 83.36h5.5M270.71 92h5.5M275.7 84.02V92.76M272.95 84.02h5.5M272.95 92.76h5.5M277.86 83.2V92.04M275.11 83.2h5.5M275.11 92.04h5.5M279.94 83.56V92.5M277.19 83.56h5.5M277.19 92.5h5.5M281.95 83.57V92.59M279.2 83.57h5.5M279.2 92.59h5.5M283.89 83.47V92.59M281.14 83.47h5.5M281.14 92.59h5.5M285.77 83.19V92.42M283.02 83.19h5.5M283.02 92.42h5.5M287.59 82.64V91.97M284.84 82.64h5.5M284.84 91.97h5.5M289.36 83.06V92.5M286.61 83.06h5.5M286.61 92.5h5.5M291.07 82.61V92.15M288.32 82.61h5.5M288.32 92.15h5.5M292.74 82.45V92.09M289.99 82.45h5.5M289.99 92.09h5.5M294.36 82.58V92.31M291.61 82.58h5.5M291.61 92.31h5.5M295.93 82.33V92.15M293.18 82.33h5.5M293.18 92.15h5.5M297.47 82.64V92.55M294.72 82.64h5.5M294.72 92.55h5.5M298.96 82.55V92.55M296.21 82.55h5.5M296.21 92.55h5.5M300.42 82.33V92.41M297.67 82.33h5.5M297.67 92.41h5.5M301.84 81.83V92M299.09 81.83h5.5M299.09 92h5.5M303.23 81.96V92.21M300.48 81.96h5.5M300.48 92.21h5.5M304.58 81.97V92.3M301.83 81.97h5.5M301.83 92.3h5.5M305.91 81.65V92.06M303.16 81.65h5.5M303.16 92.06h5.5M307.2 81.68V92.16M304.45 81.68h5.5M304.45 92.16h5.5M308.47 81.73V92.28M305.72 81.73h5.5M305.72 92.28h5.5M309.71 81.23V91.86M306.96 81.23h5.5M306.96 91.86h5.5M310.92 81.23V91.93M308.17 81.23h5.5M308.17 91.93h5.5M312.11 81.55V92.31M309.36 81.55h5.5M309.36 92.31h5.5" stroke="#40f440" stroke-width="0.95" fill="none"/>
<g fill="#40f440"><path d="M44.3 177.24l2.07 3.69h-4.14z"/><path d="M108.33 103.02l2.07 3.69h-4.14z"/><path d="M138.1 89.7l2.07 3.69h-4.14z"/><path d="M157.71 88.57l2.07 3.69h-4.14z"/><path d="M172.36 90.27l2.07 3.69h-4.14z"/><path d="M184.05 89l2.07 3.69h-4.14z"/><path d="M193.79 88.58l2.07 3.69h-4.14z"/><path d="M202.13 87.87l2.07 3.69h-4.14z"/><path d="M209.43 88.08l2.07 3.69h-4.14z"/><path d="M215.91 88.82l2.07 3.69h-4.14z"/><path d="M221.74 88.45l2.07 3.69h-4.14z"/><path d="M227.04 88.24l2.07 3.69h-4.14z"/><path d="M231.9 87.43l2.07 3.69h-4.14z"/><path d="M236.39 87.63l2.07 3.69h-4.14z"/><path d="M240.55 87.12l2.07 3.69h-4.14z"/><path d="M244.44 87.26l2.07 3.69h-4.14z"/><path d="M248.08 87.08l2.07 3.69h-4.14z"/><path d="M251.51 86.65l2.07 3.69h-4.14z"/><path d="M254.75 86.2l2.07 3.69h-4.14z"/><path d="M257.82 86.69l2.07 3.69h-4.14z"/><path d="M260.74 86.51l2.07 3.69h-4.14z"/><path d="M263.51 86.07l2.07 3.69h-4.14z"/><path d="M266.16 85.71l2.07 3.69h-4.14z"/><path d="M268.7 85.93l2.07 3.69h-4.14z"/><path d="M271.12 86l2.07 3.69h-4.14z"/><path d="M273.46 85.43l2.07 3.69h-4.14z"/><path d="M275.7 86.14l2.07 3.69h-4.14z"/><path d="M277.86 85.37l2.07 3.69h-4.14z"/><path d="M279.94 85.78l2.07 3.69h-4.14z"/><path d="M281.95 85.83l2.07 3.69h-4.14z"/><path d="M283.89 85.78l2.07 3.69h-4.14z"/><path d="M285.77 85.55l2.07 3.69h-4.14z"/><path d="M287.59 85.06l2.07 3.69h-4.14z"/><path d="M289.36 85.53l2.07 3.69h-4.14z"/><path d="M291.07 85.13l2.07 3.69h-4.14z"/><path d="M292.74 85.02l2.07 3.69h-4.14z"/><path d="M294.36 85.19l2.07 3.69h-4.14z"/><path d="M295.93 84.99l2.07 3.69h-4.14z"/><path d="M297.47 85.35l2.07 3.69h-4.14z"/><path d="M298.96 85.3l2.07 3.69h-4.14z"/><path d="M300.42 85.12l2.07 3.69h-4.14z"/><path d="M301.84 84.67l2.07 3.69h-4.14z"/><path d="M303.23 84.83l2.07 3.69h-4.14z"/><path d="M304.58 84.88l2.07 3.69h-4.14z"/><path d="M305.91 84.61l2.07 3.69h-4.14z"/><path d="M307.2 84.67l2.07 3.69h-4.14z"/><path d="M308.47 84.76l2.07 3.69h-4.14z"/><path d="M309.71 84.29l2.07 3.69h-4.14z"/><path d="M310.92 84.33l2.07 3.69h-4.14z"/><path d="M312.11 84.68l2.07 3.69h-4.14z"/></g>
<path d="M405.3 208.1 L469.33 151.44 L499.1 124.25 L518.71 118.87 L533.36 117.45 L545.05 117.74 L554.79 117.43 L563.13 117.37 L570.43 116.94 L576.91 116.66 L582.74 117.05 L588.04 116.59 L592.9 116.5 L597.39 116.5 L601.55 116.15 L605.44 114.85 L609.08 114.41 L612.51 114.02 L615.75 113.8 L618.82 113.24 L621.74 112.82 L624.51 112.68 L627.16 112.82 L629.7 112.5 L632.12 112.28 L634.46 112.79 L636.7 112.21 L638.86 111.91 L640.94 111.93 L642.95 111.87 L644.89 112.03 L646.77 112.2 L648.59 111.61 L650.36 111.92 L652.07 111.42 L653.74 111.17 L655.36 111.56 L656.93 111.46 L658.47 110.9 L659.96 110.99 L661.42 111.37 L662.84 111.32 L664.23 111.22 L665.58 110.49 L666.91 110.49 L668.2 110.97 L669.47 110.32 L670.71 110.11 L671.92 110.31 L673.11 110.49" stroke="#c82828" stroke-width="1.1" fill="none"/>
<path d="M405.3 204.14V212.07M402.55 204.14h5.5M402.55 212.07h5.5M469.33 142.95V159.94M466.58 142.95h5.5M466.58 159.94h5.5M499.1 119.43V129.06M496.35 119.43h5.5M496.35 129.06h5.5M518.71 113.89V123.84M515.96 113.89h5.5M515.96 123.84h5.5M533.36 112.35V122.55M530.61 112.35h5.5M530.61 122.55h5.5M545.05 112.97V122.5M542.3 112.97h5.5M542.3 122.5h5.5M554.79 112.94V121.92M552.04 112.94h5.5M552.04 121.92h5.5M563.13 113.12V121.62M560.38 113.12h5.5M560.38 121.62h5.5M570.43 112.64V121.24M567.68 112.64h5.5M567.68 121.24h5.5M576.91 112.32V121.01M574.16 112.32h5.5M574.16 121.01h5.5M582.74 112.66V121.43M579.99 112.66h5.5M579.99 121.43h5.5M588.04 112.16V121.01M585.29 112.16h5.5M585.29 121.01h5.5M592.9 112.05V120.96M590.15 112.05h5.5M590.15 120.96h5.5M597.39 112.01V120.98M594.64 112.01h5.5M594.64 120.98h5.5M601.55 111.63V120.67M598.8 111.63h5.5M598.8 120.67h5.5M605.44 110.3V119.41M602.69 110.3h5.5M602.69 119.41h5.5M609.08 109.81V119.01M606.33 109.81h5.5M606.33 119.01h5.5M612.51 109.38V118.67M609.76 109.38h5.5M609.76 118.67h5.5M615.75 109.12V118.49M613 109.12h5.5M613 118.49h5.5M618.82 108.52V117.96M616.07 108.52h5.5M616.07 117.96h5.5M621.74 108.06V117.57M618.99 108.06h5.5M618.99 117.57h5.5M624.51 107.9V117.47M621.76 107.9h5.5M621.76 117.47h5.5M627.16 108V117.64M624.41 108h5.5M624.41 117.64h5.5M629.7 107.65V117.35M626.95 107.65h5.5M626.95 117.35h5.5M632.12 107.4V117.16M629.37 107.4h5.5M629.37 117.16h5.5M634.46 107.88V117.7M631.71 107.88h5.5M631.71 117.7h5.5M636.7 107.27V117.15M633.95 107.27h5.5M633.95 117.15h5.5M638.86 106.94V116.87M636.11 106.94h5.5M636.11 116.87h5.5M640.94 106.94V116.92M638.19 106.94h5.5M638.19 116.92h5.5M642.95 106.86V116.89M640.2 106.86h5.5M640.2 116.89h5.5M644.89 106.99V117.06M642.14 106.99h5.5M642.14 117.06h5.5M646.77 107.14V117.26M644.02 107.14h5.5M644.02 117.26h5.5M648.59 106.53V116.69M645.84 106.53h5.5M645.84 116.69h5.5M650.36 106.82V117.03M647.61 106.82h5.5M647.61 117.03h5.5M652.07 106.29V116.55M649.32 106.29h5.5M649.32 116.55h5.5M653.74 106.03V116.32M650.99 106.03h5.5M650.99 116.32h5.5M655.36 106.39V116.73M652.61 106.39h5.5M652.61 116.73h5.5M656.93 106.27V116.64M654.18 106.27h5.5M654.18 116.64h5.5M658.47 105.69V116.1M655.72 105.69h5.5M655.72 116.1h5.5M659.96 105.77V116.22M657.21 105.77h5.5M657.21 116.22h5.5M661.42 106.13V116.61M658.67 106.13h5.5M658.67 116.61h5.5M662.84 106.07V116.58M660.09 106.07h5.5M660.09 116.58h5.5M664.23 105.94V116.49M661.48 105.94h5.5M661.48 116.49h5.5M665.58 105.2V115.78M662.83 105.2h5.5M662.83 115.78h5.5M666.91 105.18V115.8M664.16 105.18h5.5M664.16 115.8h5.5M668.2 105.65V116.3M665.45 105.65h5.5M665.45 116.3h5.5M669.47 104.98V115.65M666.72 104.98h5.5M666.72 115.65h5.5M670.71 104.75V115.46M667.96 104.75h5.5M667.96 115.46h5.5M671.92 104.94V115.67M669.17 104.94h5.5M669.17 115.67h5.5M673.11 105.11V115.88M670.36 105.11h5.5M670.36 115.88h5.5" stroke="#f41414" stroke-width="0.95" fill="none"/>
<g fill="#f41414"><circle cx="405.3" cy="208.1" r="1.9"/><circle cx="469.33" cy="151.44" r="1.9"/><circle cx="499.1" cy="124.25" r="1.9"/><circle cx="518.71" cy="118.87" r="1.9"/><circle cx="533.36" cy="117.45" r="1.9"/><circle cx="545.05" cy="117.74" r="1.9"/><circle cx="554.79" cy="117.43" r="1.9"/><circle cx="563.13" cy="117.37" r="1.9"/><circle cx="570.43" cy="116.94" r="1.9"/><circle cx="576.91" cy="116.66" r="1.9"/><circle cx="582.74" cy="117.05" r="1.9"/><circle cx="588.04" cy="116.59" r="1.9"/><circle cx="592.9" cy="116.5" r="1.9"/><circle cx="597.39" cy="116.5" r="1.9"/><circle cx="601.55" cy="116.15" r="1.9"/><circle cx="605.44" cy="114.85" r="1.9"/><circle cx="609.08" cy="114.41" r="1.9"/><circle cx="612.51" cy="114.02" r="1.9"/><circle cx="615.75" cy="113.8" r="1.9"/><circle cx="618.82" cy="113.24" r="1.9"/><circle cx="621.74" cy="112.82" r="1.9"/><circle cx="624.51" cy="112.68" r="1.9"/><circle cx="627.16" cy="112.82" r="1.9"/><circle cx="629.7" cy="112.5" r="1.9"/><circle cx="632.12" cy="112.28" r="1.9"/><circle cx="634.46" cy="112.79" r="1.9"/><circle cx="636.7" cy="112.21" r="1.9"/><circle cx="638.86" cy="111.91" r="1.9"/><circle cx="640.94" cy="111.93" r="1.9"/><circle cx="642.95" cy="111.87" r="1.9"/><circle cx="644.89" cy="112.03" r="1.9"/><circle cx="646.77" cy="112.2" r="1.9"/><circle cx="648.59" cy="111.61" r="1.9"/><circle cx="650.36" cy="111.92" r="1.9"/><circle cx="652.07" cy="111.42" r="1.9"/><circle cx="653.74" cy="111.17" r="1.9"/><circle cx="655.36" cy="111.56" r="1.9"/><circle cx="656.93" cy="111.46" r="1.9"/><circle cx="658.47" cy="110.9" r="1.9"/><circle cx="659.96" cy="110.99" r="1.9"/><circle cx="661.42" cy="111.37" r="1.9"/><circle cx="662.84" cy="111.32" r="1.9"/><circle cx="664.23" cy="111.22" r="1.9"/><circle cx="665.58" cy="110.49" r="1.9"/><circle cx="666.91" cy="110.49" r="1.9"/><circle cx="668.2" cy="110.97" r="1.9"/><circle cx="669.47" cy="110.32" r="1.9"/><circle cx="670.71" cy="110.11" r="1.9"/><circle cx="671.92" cy="110.31" r="1.9"/><circle cx="673.11" cy="110.49" r="1.9"/></g>
<path d="M405.3 217.74 L469.33 153.14 L499.1 137.28 L518.71 139.55 L533.36 147.19 L545.05 154.24 L554.79 160.26 L563.13 165.74 L570.43 168.33 L576.91 170.3 L582.74 172.39 L588.04 177.14 L592.9 181.25 L597.39 182.57 L601.55 184.31 L605.44 188.24 L609.08 189.9 L612.51 191.32 L615.75 192.74 L618.82 193.14 L621.74 194.06 L624.51 194.55 L627.16 195.39 L629.7 194.95 L632.12 195.64 L634.46 195.76 L636.7 195.85 L638.86 195.69 L640.94 196.2 L642.95 195.88 L644.89 196.33 L646.77 196.4 L648.59 196.5 L650.36 197.01 L652.07 196.74 L653.74 197.04 L655.36 197.19 L656.93 196.52 L658.47 197.05 L659.96 196.8 L661.42 196.58 L662.84 196.72 L664.23 196.92 L665.58 196.76 L666.91 196.73 L668.2 196.53 L669.47 197.11 L670.71 196.72 L671.92 196.99 L673.11 196.96" stroke="#1a1a1a" stroke-width="1.1" fill="none"/>
<path d="M405.3 214.34V221.14M402.55 214.34h5.5M402.55 221.14h5.5M469.33 148.89V157.39M466.58 148.89h5.5M466.58 157.39h5.5M499.1 131.61V142.95M496.35 131.61h5.5M496.35 142.95h5.5M518.71 133.07V146.02M515.96 133.07h5.5M515.96 146.02h5.5M533.36 140.11V154.28M530.61 140.11h5.5M530.61 154.28h5.5M545.05 147.02V161.45M542.3 147.02h5.5M542.3 161.45h5.5M554.79 152.93V167.59M552.04 152.93h5.5M552.04 167.59h5.5M563.13 158.31V173.16M560.38 158.31h5.5M560.38 173.16h5.5M570.43 160.82V175.83M567.68 160.82h5.5M567.68 175.83h5.5M576.91 162.72V177.88M574.16 162.72h5.5M574.16 177.88h5.5M582.74 164.74V180.04M579.99 164.74h5.5M579.99 180.04h5.5M588.04 169.56V184.72M585.29 169.56h5.5M585.29 184.72h5.5M592.9 173.72V188.77M590.15 173.72h5.5M590.15 188.77h5.5M597.39 175.11V190.04M594.64 175.11h5.5M594.64 190.04h5.5M601.55 176.9V191.73M598.8 176.9h5.5M598.8 191.73h5.5M605.44 180.87V195.6M602.69 180.87h5.5M602.69 195.6h5.5M609.08 182.62V197.18M606.33 182.62h5.5M606.33 197.18h5.5M612.51 184.12V198.52M609.76 184.12h5.5M609.76 198.52h5.5M615.75 185.62V199.87M613 185.62h5.5M613 199.87h5.5M618.82 186.08V200.19M616.07 186.08h5.5M616.07 200.19h5.5M621.74 187.08V201.05M618.99 187.08h5.5M618.99 201.05h5.5M624.51 187.63V201.47M621.76 187.63h5.5M621.76 201.47h5.5M627.16 188.53V202.24M624.41 188.53h5.5M624.41 202.24h5.5M629.7 188.15V201.75M626.95 188.15h5.5M626.95 201.75h5.5M632.12 188.75V202.53M629.37 188.75h5.5M629.37 202.53h5.5M634.46 188.78V202.73M631.71 188.78h5.5M631.71 202.73h5.5M636.7 188.8V202.91M633.95 188.8h5.5M633.95 202.91h5.5M638.86 188.55V202.82M636.11 188.55h5.5M636.11 202.82h5.5M640.94 188.99V203.41M638.19 188.99h5.5M638.19 203.41h5.5M642.95 188.59V203.16M640.2 188.59h5.5M640.2 203.16h5.5M644.89 188.97V203.69M642.14 188.97h5.5M642.14 203.69h5.5M646.77 188.97V203.82M644.02 188.97h5.5M644.02 203.82h5.5M648.59 189V203.99M645.84 189h5.5M645.84 203.99h5.5M650.36 189.46V204.57M647.61 189.46h5.5M647.61 204.57h5.5M652.07 189.12V204.36M649.32 189.12h5.5M649.32 204.36h5.5M653.74 189.37V204.71M650.99 189.37h5.5M650.99 204.71h5.5M655.36 189.48V204.91M652.61 189.48h5.5M652.61 204.91h5.5M656.93 188.76V204.28M654.18 188.76h5.5M654.18 204.28h5.5M658.47 189.25V204.86M655.72 189.25h5.5M655.72 204.86h5.5M659.96 188.95V204.64M657.21 188.95h5.5M657.21 204.64h5.5M661.42 188.69V204.47M658.67 188.69h5.5M658.67 204.47h5.5M662.84 188.8V204.65M660.09 188.8h5.5M660.09 204.65h5.5M664.23 188.95V204.89M661.48 188.95h5.5M661.48 204.89h5.5M665.58 188.75V204.76M662.83 188.75h5.5M662.83 204.76h5.5M666.91 188.68V204.77M664.16 188.68h5.5M664.16 204.77h5.5M668.2 188.45V204.61M665.45 188.45h5.5M665.45 204.61h5.5M669.47 188.99V205.22M666.72 188.99h5.5M666.72 205.22h5.5M670.71 188.57V204.87M667.96 188.57h5.5M667.96 204.87h5.5M671.92 188.8V205.17M669.17 188.8h5.5M669.17 205.17h5.5M673.11 188.75V205.18M670.36 188.75h5.5M670.36 205.18h5.5" stroke="#000000" stroke-width="0.95" fill="none"/>
<g fill="#000000"><circle cx="405.3" cy="217.74" r="1.8"/><circle cx="469.33" cy="153.14" r="1.8"/><circle cx="499.1" cy="137.28" r="1.8"/><circle cx="518.71" cy="139.55" r="1.8"/><circle cx="533.36" cy="147.19" r="1.8"/><circle cx="545.05" cy="154.24" r="1.8"/><circle cx="554.79" cy="160.26" r="1.8"/><circle cx="563.13" cy="165.74" r="1.8"/><circle cx="570.43" cy="168.33" r="1.8"/><circle cx="576.91" cy="170.3" r="1.8"/><circle cx="582.74" cy="172.39" r="1.8"/><circle cx="588.04" cy="177.14" r="1.8"/><circle cx="592.9" cy="181.25" r="1.8"/><circle cx="597.39" cy="182.57" r="1.8"/><circle cx="601.55" cy="184.31" r="1.8"/><circle cx="605.44" cy="188.24" r="1.8"/><circle cx="609.08" cy="189.9" r="1.8"/><circle cx="612.51" cy="191.32" r="1.8"/><circle cx="615.75" cy="192.74" r="1.8"/><circle cx="618.82" cy="193.14" r="1.8"/><circle cx="621.74" cy="194.06" r="1.8"/><circle cx="624.51" cy="194.55" r="1.8"/><circle cx="627.16" cy="195.39" r="1.8"/><circle cx="629.7" cy="194.95" r="1.8"/><circle cx="632.12" cy="195.64" r="1.8"/><circle cx="634.46" cy="195.76" r="1.8"/><circle cx="636.7" cy="195.85" r="1.8"/><circle cx="638.86" cy="195.69" r="1.8"/><circle cx="640.94" cy="196.2" r="1.8"/><circle cx="642.95" cy="195.88" r="1.8"/><circle cx="644.89" cy="196.33" r="1.8"/><circle cx="646.77" cy="196.4" r="1.8"/><circle cx="648.59" cy="196.5" r="1.8"/><circle cx="650.36" cy="197.01" r="1.8"/><circle cx="652.07" cy="196.74" r="1.8"/><circle cx="653.74" cy="197.04" r="1.8"/><circle cx="655.36" cy="197.19" r="1.8"/><circle cx="656.93" cy="196.52" r="1.8"/><circle cx="658.47" cy="197.05" r="1.8"/><circle cx="659.96" cy="196.8" r="1.8"/><circle cx="661.42" cy="196.58" r="1.8"/><circle cx="662.84" cy="196.72" r="1.8"/><circle cx="664.23" cy="196.92" r="1.8"/><circle cx="665.58" cy="196.76" r="1.8"/><circle cx="666.91" cy="196.73" r="1.8"/><circle cx="668.2" cy="196.53" r="1.8"/><circle cx="669.47" cy="197.11" r="1.8"/><circle cx="670.71" cy="196.72" r="1.8"/><circle cx="671.92" cy="196.99" r="1.8"/><circle cx="673.11" cy="196.96" r="1.8"/></g>
<path d="M405.3 179.49 L469.33 105.83 L499.1 92.8 L518.71 90.25 L533.36 91.95 L545.05 91.07 L554.79 90.83 L563.13 90.83 L570.43 90.53 L576.91 90.27 L582.74 90.08 L588.04 90.04 L592.9 89.19 L597.39 88.85 L601.55 89.1 L605.44 88.9 L609.08 89.07 L612.51 88.89 L615.75 88.55 L618.82 88.49 L621.74 87.89 L624.51 88.34 L627.16 88.35 L629.7 87.46 L632.12 87.72 L634.46 87.94 L636.7 87.51 L638.86 87.86 L640.94 87.37 L642.95 86.93 L644.89 86.98 L646.77 87.08 L648.59 87.4 L650.36 87.26 L652.07 87.39 L653.74 86.83 L655.36 87 L656.93 86.75 L658.47 87.09 L659.96 87.14 L661.42 86.6 L662.84 86.42 L664.23 86.5 L665.58 86.5 L666.91 86.46 L668.2 86.49 L669.47 86.89 L670.71 86.62 L671.92 86.72 L673.11 86.97" stroke="#5ad85a" stroke-width="1.1" fill="none"/>
<path d="M405.3 177.51V181.47M402.55 177.51h5.5M402.55 181.47h5.5M469.33 103.28V108.38M466.58 103.28h5.5M466.58 108.38h5.5M499.1 89.99V95.61M496.35 89.99h5.5M496.35 95.61h5.5M518.71 87.27V93.24M515.96 87.27h5.5M515.96 93.24h5.5M533.36 88.84V95.07M530.61 88.84h5.5M530.61 95.07h5.5M545.05 87.95V94.18M542.3 87.95h5.5M542.3 94.18h5.5M554.79 87.71V93.95M552.04 87.71h5.5M552.04 93.95h5.5M563.13 87.72V93.95M560.38 87.72h5.5M560.38 93.95h5.5M570.43 87.42V93.65M567.68 87.42h5.5M567.68 93.65h5.5M576.91 87.15V93.38M574.16 87.15h5.5M574.16 93.38h5.5M582.74 86.97V93.2M579.99 86.97h5.5M579.99 93.2h5.5M588.04 86.92V93.15M585.29 86.92h5.5M585.29 93.15h5.5M592.9 86.07V92.3M590.15 86.07h5.5M590.15 92.3h5.5M597.39 85.63V92.08M594.64 85.63h5.5M594.64 92.08h5.5M601.55 85.78V92.43M598.8 85.78h5.5M598.8 92.43h5.5M605.44 85.48V92.32M602.69 85.48h5.5M602.69 92.32h5.5M609.08 85.56V92.57M606.33 85.56h5.5M606.33 92.57h5.5M612.51 85.3V92.48M609.76 85.3h5.5M609.76 92.48h5.5M615.75 84.88V92.22M613 84.88h5.5M613 92.22h5.5M618.82 84.75V92.23M616.07 84.75h5.5M616.07 92.23h5.5M621.74 84.08V91.7M618.99 84.08h5.5M618.99 91.7h5.5M624.51 84.46V92.22M621.76 84.46h5.5M621.76 92.22h5.5M627.16 84.41V92.29M624.41 84.41h5.5M624.41 92.29h5.5M629.7 83.45V91.46M626.95 83.45h5.5M626.95 91.46h5.5M632.12 83.65V91.78M629.37 83.65h5.5M629.37 91.78h5.5M634.46 83.83V92.06M631.71 83.83h5.5M631.71 92.06h5.5M636.7 83.34V91.69M633.95 83.34h5.5M633.95 91.69h5.5M638.86 83.64V92.09M636.11 83.64h5.5M636.11 92.09h5.5M640.94 83.09V91.64M638.19 83.09h5.5M638.19 91.64h5.5M642.95 82.61V91.26M640.2 82.61h5.5M640.2 91.26h5.5M644.89 82.61V91.36M642.14 82.61h5.5M642.14 91.36h5.5M646.77 82.65V91.5M644.02 82.65h5.5M644.02 91.5h5.5M648.59 82.93V91.87M645.84 82.93h5.5M645.84 91.87h5.5M650.36 82.75V91.78M647.61 82.75h5.5M647.61 91.78h5.5M652.07 82.83V91.95M649.32 82.83h5.5M649.32 91.95h5.5M653.74 82.23V91.44M650.99 82.23h5.5M650.99 91.44h5.5M655.36 82.35V91.64M652.61 82.35h5.5M652.61 91.64h5.5M656.93 82.06V91.43M654.18 82.06h5.5M654.18 91.43h5.5M658.47 82.36V91.81M655.72 82.36h5.5M655.72 91.81h5.5M659.96 82.38V91.9M657.21 82.38h5.5M657.21 91.9h5.5M661.42 81.8V91.4M658.67 81.8h5.5M658.67 91.4h5.5M662.84 81.58V91.26M660.09 81.58h5.5M660.09 91.26h5.5M664.23 81.62V91.37M661.48 81.62h5.5M661.48 91.37h5.5M665.58 81.59V91.41M662.83 81.59h5.5M662.83 91.41h5.5M666.91 81.52V91.4M664.16 81.52h5.5M664.16 91.4h5.5M668.2 81.52V91.46M665.45 81.52h5.5M665.45 91.46h5.5M669.47 81.89V91.9M666.72 81.89h5.5M666.72 91.9h5.5M670.71 81.58V91.65M667.96 81.58h5.5M667.96 91.65h5.5M671.92 81.65V91.79M669.17 81.65h5.5M669.17 91.79h5.5M673.11 81.87V92.07M670.36 81.87h5.5M670.36 92.07h5.5" stroke="#40f440" stroke-width="0.95" fill="none"/>
<g fill="#40f440"><path d="M405.3 177.24l2.07 3.69h-4.14z"/><path d="M469.33 103.58l2.07 3.69h-4.14z"/><path d="M499.1 90.55l2.07 3.69h-4.14z"/><path d="M518.71 88l2.07 3.69h-4.14z"/><path d="M533.36 89.7l2.07 3.69h-4.14z"/><path d="M545.05 88.82l2.07 3.69h-4.14z"/><path d="M554.79 88.58l2.07 3.69h-4.14z"/><path d="M563.13 88.58l2.07 3.69h-4.14z"/><path d="M570.43 88.28l2.07 3.69h-4.14z"/><path d="M576.91 88.02l2.07 3.69h-4.14z"/><path d="M582.74 87.83l2.07 3.69h-4.14z"/><path d="M588.04 87.79l2.07 3.69h-4.14z"/><path d="M592.9 86.94l2.07 3.69h-4.14z"/><path d="M597.39 86.6l2.07 3.69h-4.14z"/><path d="M601.55 86.85l2.07 3.69h-4.14z"/><path d="M605.44 86.65l2.07 3.69h-4.14z"/><path d="M609.08 86.82l2.07 3.69h-4.14z"/><path d="M612.51 86.64l2.07 3.69h-4.14z"/><path d="M615.75 86.3l2.07 3.69h-4.14z"/><path d="M618.82 86.24l2.07 3.69h-4.14z"/><path d="M621.74 85.64l2.07 3.69h-4.14z"/><path d="M624.51 86.09l2.07 3.69h-4.14z"/><path d="M627.16 86.1l2.07 3.69h-4.14z"/><path d="M629.7 85.21l2.07 3.69h-4.14z"/><path d="M632.12 85.47l2.07 3.69h-4.14z"/><path d="M634.46 85.69l2.07 3.69h-4.14z"/><path d="M636.7 85.26l2.07 3.69h-4.14z"/><path d="M638.86 85.61l2.07 3.69h-4.14z"/><path d="M640.94 85.12l2.07 3.69h-4.14z"/><path d="M642.95 84.68l2.07 3.69h-4.14z"/><path d="M644.89 84.73l2.07 3.69h-4.14z"/><path d="M646.77 84.83l2.07 3.69h-4.14z"/><path d="M648.59 85.15l2.07 3.69h-4.14z"/><path d="M650.36 85.01l2.07 3.69h-4.14z"/><path d="M652.07 85.14l2.07 3.69h-4.14z"/><path d="M653.74 84.58l2.07 3.69h-4.14z"/><path d="M655.36 84.75l2.07 3.69h-4.14z"/><path d="M656.93 84.5l2.07 3.69h-4.14z"/><path d="M658.47 84.84l2.07 3.69h-4.14z"/><path d="M659.96 84.89l2.07 3.69h-4.14z"/><path d="M661.42 84.35l2.07 3.69h-4.14z"/><path d="M662.84 84.17l2.07 3.69h-4.14z"/><path d="M664.23 84.25l2.07 3.69h-4.14z"/><path d="M665.58 84.25l2.07 3.69h-4.14z"/><path d="M666.91 84.21l2.07 3.69h-4.14z"/><path d="M668.2 84.24l2.07 3.69h-4.14z"/><path d="M669.47 84.64l2.07 3.69h-4.14z"/><path d="M670.71 84.37l2.07 3.69h-4.14z"/><path d="M671.92 84.47l2.07 3.69h-4.14z"/><path d="M673.11 84.72l2.07 3.69h-4.14z"/></g>
<path d="M44.1 364.27 L108.13 299.57 L137.9 272.78 L157.51 267.08 L172.16 266.51 L183.85 266.43 L193.59 266.36 L201.93 266.1 L209.23 265.65 L215.71 266.16 L221.54 265.61 L226.84 265.09 L231.7 264.89 L236.19 264.09 L240.35 263.11 L244.24 262.51 L247.88 262.71 L251.31 261.75 L254.55 261.75 L257.62 261.44 L260.54 262.03 L263.31 261.75 L265.96 261.81 L268.5 261.05 L270.92 261.36 L273.26 261.38 L275.5 261.04 L277.66 260.55 L279.74 260.55 L281.75 260.96 L283.69 260.98 L285.57 260.26 L287.39 260.49 L289.16 260.32 L290.87 260.78 L292.54 260.75 L294.16 260.15 L295.73 260.32 L297.27 260.56 L298.76 259.77 L300.22 259.98 L301.64 259.78 L303.03 260.35 L304.38 259.64 L305.71 260.27 L307 259.54 L308.27 259.84 L309.51 259.9 L310.72 259.67 L311.91 259.31" stroke="#c82828" stroke-width="1.1" fill="none"/>
<path d="M44.1 357.71V370.82M41.35 357.71h5.5M41.35 370.82h5.5M108.13 290.45V308.69M105.38 290.45h5.5M105.38 308.69h5.5M137.9 267.65V277.91M135.15 267.65h5.5M135.15 277.91h5.5M157.51 261.95V272.21M154.76 261.95h5.5M154.76 272.21h5.5M172.16 261.38V271.64M169.41 261.38h5.5M169.41 271.64h5.5M183.85 261.27V271.58M181.1 261.27h5.5M181.1 271.58h5.5M193.59 261.19V271.54M190.84 261.19h5.5M190.84 271.54h5.5M201.93 260.91V271.29M199.18 260.91h5.5M199.18 271.29h5.5M209.23 260.44V270.85M206.48 260.44h5.5M206.48 270.85h5.5M215.71 260.94V271.37M212.96 260.94h5.5M212.96 271.37h5.5M221.54 260.38V270.84M218.79 260.38h5.5M218.79 270.84h5.5M226.84 259.85V270.33M224.09 259.85h5.5M224.09 270.33h5.5M231.7 259.63V270.14M228.95 259.63h5.5M228.95 270.14h5.5M236.19 258.83V269.35M233.44 258.83h5.5M233.44 269.35h5.5M240.35 257.84V268.38M237.6 257.84h5.5M237.6 268.38h5.5M244.24 257.24V267.79M241.49 257.24h5.5M241.49 267.79h5.5M247.88 257.43V268M245.13 257.43h5.5M245.13 268h5.5M251.31 256.46V267.04M248.56 256.46h5.5M248.56 267.04h5.5M254.55 256.45V267.05M251.8 256.45h5.5M251.8 267.05h5.5M257.62 256.13V266.74M254.87 256.13h5.5M254.87 266.74h5.5M260.54 256.72V267.34M257.79 256.72h5.5M257.79 267.34h5.5M263.31 256.43V267.07M260.56 256.43h5.5M260.56 267.07h5.5M265.96 256.49V267.13M263.21 256.49h5.5M263.21 267.13h5.5M268.5 255.72V266.37M265.75 255.72h5.5M265.75 266.37h5.5M270.92 256.03V266.69M268.17 256.03h5.5M268.17 266.69h5.5M273.26 256.04V266.71M270.51 256.04h5.5M270.51 266.71h5.5M275.5 255.7V266.39M272.75 255.7h5.5M272.75 266.39h5.5M277.66 255.2V265.89M274.91 255.2h5.5M274.91 265.89h5.5M279.74 255.2V265.9M276.99 255.2h5.5M276.99 265.9h5.5M281.75 255.61V266.31M279 255.61h5.5M279 266.31h5.5M283.69 255.63V266.34M280.94 255.63h5.5M280.94 266.34h5.5M285.57 254.9V265.62M282.82 254.9h5.5M282.82 265.62h5.5M287.39 255.13V265.86M284.64 255.13h5.5M284.64 265.86h5.5M289.16 254.95V265.69M286.41 254.95h5.5M286.41 265.69h5.5M290.87 255.41V266.15M288.12 255.41h5.5M288.12 266.15h5.5M292.54 255.37V266.12M289.79 255.37h5.5M289.79 266.12h5.5M294.16 254.77V265.53M291.41 254.77h5.5M291.41 265.53h5.5M295.73 254.94V265.7M292.98 254.94h5.5M292.98 265.7h5.5M297.27 255.18V265.95M294.52 255.18h5.5M294.52 265.95h5.5M298.76 254.38V265.16M296.01 254.38h5.5M296.01 265.16h5.5M300.22 254.59V265.37M297.47 254.59h5.5M297.47 265.37h5.5M301.64 254.39V265.18M298.89 254.39h5.5M298.89 265.18h5.5M303.03 254.95V265.75M300.28 254.95h5.5M300.28 265.75h5.5M304.38 254.24V265.04M301.63 254.24h5.5M301.63 265.04h5.5M305.71 254.87V265.67M302.96 254.87h5.5M302.96 265.67h5.5M307 254.14V264.95M304.25 254.14h5.5M304.25 264.95h5.5M308.27 254.44V265.25M305.52 254.44h5.5M305.52 265.25h5.5M309.51 254.49V265.31M306.76 254.49h5.5M306.76 265.31h5.5M310.72 254.26V265.08M307.97 254.26h5.5M307.97 265.08h5.5M311.91 253.9V264.73M309.16 253.9h5.5M309.16 264.73h5.5" stroke="#f41414" stroke-width="0.95" fill="none"/>
<g fill="#f41414"><circle cx="44.1" cy="364.27" r="1.9"/><circle cx="108.13" cy="299.57" r="1.9"/><circle cx="137.9" cy="272.78" r="1.9"/><circle cx="157.51" cy="267.08" r="1.9"/><circle cx="172.16" cy="266.51" r="1.9"/><circle cx="183.85" cy="266.43" r="1.9"/><circle cx="193.59" cy="266.36" r="1.9"/><circle cx="201.93" cy="266.1" r="1.9"/><circle cx="209.23" cy="265.65" r="1.9"/><circle cx="215.71" cy="266.16" r="1.9"/><circle cx="221.54" cy="265.61" r="1.9"/><circle cx="226.84" cy="265.09" r="1.9"/><circle cx="231.7" cy="264.89" r="1.9"/><circle cx="236.19" cy="264.09" r="1.9"/><circle cx="240.35" cy="263.11" r="1.9"/><circle cx="244.24" cy="262.51" r="1.9"/><circle cx="247.88" cy="262.71" r="1.9"/><circle cx="251.31" cy="261.75" r="1.9"/><circle cx="254.55" cy="261.75" r="1.9"/><circle cx="257.62" cy="261.44" r="1.9"/><circle cx="260.54" cy="262.03" r="1.9"/><circle cx="263.31" cy="261.75" r="1.9"/><circle cx="265.96" cy="261.81" r="1.9"/><circle cx="268.5" cy="261.05" r="1.9"/><circle cx="270.92" cy="261.36" r="1.9"/><circle cx="273.26" cy="261.38" r="1.9"/><circle cx="275.5" cy="261.04" r="1.9"/><circle cx="277.66" cy="260.55" r="1.9"/><circle cx="279.74" cy="260.55" r="1.9"/><circle cx="281.75" cy="260.96" r="1.9"/><circle cx="283.69" cy="260.98" r="1.9"/><circle cx="285.57" cy="260.26" r="1.9"/><circle cx="287.39" cy="260.49" r="1.9"/><circle cx="289.16" cy="260.32" r="1.9"/><circle cx="290.87" cy="260.78" r="1.9"/><circle cx="292.54" cy="260.75" r="1.9"/><circle cx="294.16" cy="260.15" r="1.9"/><circle cx="295.73" cy="260.32" r="1.9"/><circle cx="297.27" cy="260.56" r="1.9"/><circle cx="298.76" cy="259.77" r="1.9"/><circle cx="300.22" cy="259.98" r="1.9"/><circle cx="301.64" cy="259.78" r="1.9"/><circle cx="303.03" cy="260.35" r="1.9"/><circle cx="304.38" cy="259.64" r="1.9"/><circle cx="305.71" cy="260.27" r="1.9"/><circle cx="307" cy="259.54" r="1.9"/><circle cx="308.27" cy="259.84" r="1.9"/><circle cx="309.51" cy="259.9" r="1.9"/><circle cx="310.72" cy="259.67" r="1.9"/><circle cx="311.91" cy="259.31" r="1.9"/></g>
<path d="M44.1 354.29 L108.13 301.28 L137.9 283.04 L157.51 286.18 L172.16 293.88 L183.85 301.42 L193.59 306.63 L201.93 312.67 L209.23 315.97 L215.71 317.18 L221.54 320.57 L226.84 326.91 L231.7 330.81 L236.19 332.46 L240.35 332.75 L244.24 333.91 L247.88 334.46 L251.31 336.62 L254.55 339.66 L257.62 340.13 L260.54 342.31 L263.31 341.9 L265.96 343.46 L268.5 343.54 L270.92 344.12 L273.26 344.78 L275.5 344.67 L277.66 344.45 L279.74 344.97 L281.75 344.61 L283.69 344.87 L285.57 344.88 L287.39 344.73 L289.16 345.02 L290.87 344.99 L292.54 344.92 L294.16 344.79 L295.73 345.19 L297.27 344.95 L298.76 345.05 L300.22 345.12 L301.64 345.29 L303.03 345.35 L304.38 345.55 L305.71 345.53 L307 345.6 L308.27 345.24 L309.51 345.55 L310.72 345.63 L311.91 345.7" stroke="#1a1a1a" stroke-width="1.1" fill="none"/>
<path d="M44.1 350.59V358M41.35 350.59h5.5M41.35 358h5.5M108.13 293.3V309.26M105.38 293.3h5.5M105.38 309.26h5.5M137.9 276.49V289.6M135.15 276.49h5.5M135.15 289.6h5.5M157.51 278.97V293.39M154.76 278.97h5.5M154.76 293.39h5.5M172.16 286.18V301.57M169.41 286.18h5.5M169.41 301.57h5.5M183.85 293.05V309.78M181.1 293.05h5.5M181.1 309.78h5.5M193.59 297.7V315.55M190.84 297.7h5.5M190.84 315.55h5.5M201.93 303.26V322.07M199.18 303.26h5.5M199.18 322.07h5.5M209.23 306.35V325.58M206.48 306.35h5.5M206.48 325.58h5.5M215.71 307.38V326.98M212.96 307.38h5.5M212.96 326.98h5.5M221.54 310.6V330.54M218.79 310.6h5.5M218.79 330.54h5.5M226.84 316.79V337.03M224.09 316.79h5.5M224.09 337.03h5.5M231.7 320.55V341.07M228.95 320.55h5.5M228.95 341.07h5.5M236.19 322.37V342.55M233.44 322.37h5.5M233.44 342.55h5.5M240.35 322.81V342.68M237.6 322.81h5.5M237.6 342.68h5.5M244.24 324.12V343.7M241.49 324.12h5.5M241.49 343.7h5.5M247.88 324.81V344.12M245.13 324.81h5.5M245.13 344.12h5.5M251.31 327.1V346.15M248.56 327.1h5.5M248.56 346.15h5.5M254.55 330.25V349.06M251.8 330.25h5.5M251.8 349.06h5.5M257.62 330.58V349.69M254.87 330.58h5.5M254.87 349.69h5.5M260.54 332.62V352.01M257.79 332.62h5.5M257.79 352.01h5.5M263.31 332.07V351.73M260.56 332.07h5.5M260.56 351.73h5.5M265.96 333.5V353.42M263.21 333.5h5.5M263.21 353.42h5.5M268.5 333.46V353.63M265.75 333.46h5.5M265.75 353.63h5.5M270.92 333.92V354.32M268.17 333.92h5.5M268.17 354.32h5.5M273.26 334.51V355.06M270.51 334.51h5.5M270.51 355.06h5.5M275.5 334.36V354.98M272.75 334.36h5.5M272.75 354.98h5.5M277.66 334.12V354.79M274.91 334.12h5.5M274.91 354.79h5.5M279.74 334.6V355.34M276.99 334.6h5.5M276.99 355.34h5.5M281.75 334.21V355.01M279 334.21h5.5M279 355.01h5.5M283.69 334.45V355.3M280.94 334.45h5.5M280.94 355.3h5.5M285.57 334.43V355.33M282.82 334.43h5.5M282.82 355.33h5.5M287.39 334.25V355.21M284.64 334.25h5.5M284.64 355.21h5.5M289.16 334.51V355.52M286.41 334.51h5.5M286.41 355.52h5.5M290.87 334.46V355.52M288.12 334.46h5.5M288.12 355.52h5.5M292.54 334.37V355.48M289.79 334.37h5.5M289.79 355.48h5.5M294.16 334.22V355.37M291.41 334.22h5.5M291.41 355.37h5.5M295.73 334.59V355.79M292.98 334.59h5.5M292.98 355.79h5.5M297.27 334.33V355.57M294.52 334.33h5.5M294.52 355.57h5.5M298.76 334.41V355.69M296.01 334.41h5.5M296.01 355.69h5.5M300.22 334.46V355.79M297.47 334.46h5.5M297.47 355.79h5.5M301.64 334.6V355.97M298.89 334.6h5.5M298.89 355.97h5.5M303.03 334.65V356.05M300.28 334.65h5.5M300.28 356.05h5.5M304.38 334.83V356.27M301.63 334.83h5.5M301.63 356.27h5.5M305.71 334.79V356.27M302.96 334.79h5.5M302.96 356.27h5.5M307 334.84V356.36M304.25 334.84h5.5M304.25 356.36h5.5M308.27 334.46V356.02M305.52 334.46h5.5M305.52 356.02h5.5M309.51 334.75V356.34M306.76 334.75h5.5M306.76 356.34h5.5M310.72 334.81V356.44M307.97 334.81h5.5M307.97 356.44h5.5M311.91 334.87V356.53M309.16 334.87h5.5M309.16 356.53h5.5" stroke="#000000" stroke-width="0.95" fill="none"/>
<g fill="#000000"><circle cx="44.1" cy="354.29" r="1.8"/><circle cx="108.13" cy="301.28" r="1.8"/><circle cx="137.9" cy="283.04" r="1.8"/><circle cx="157.51" cy="286.18" r="1.8"/><circle cx="172.16" cy="293.88" r="1.8"/><circle cx="183.85" cy="301.42" r="1.8"/><circle cx="193.59" cy="306.63" r="1.8"/><circle cx="201.93" cy="312.67" r="1.8"/><circle cx="209.23" cy="315.97" r="1.8"/><circle cx="215.71" cy="317.18" r="1.8"/><circle cx="221.54" cy="320.57" r="1.8"/><circle cx="226.84" cy="326.91" r="1.8"/><circle cx="231.7" cy="330.81" r="1.8"/><circle cx="236.19" cy="332.46" r="1.8"/><circle cx="240.35" cy="332.75" r="1.8"/><circle cx="244.24" cy="333.91" r="1.8"/><circle cx="247.88" cy="334.46" r="1.8"/><circle cx="251.31" cy="336.62" r="1.8"/><circle cx="254.55" cy="339.66" r="1.8"/><circle cx="257.62" cy="340.13" r="1.8"/><circle cx="260.54" cy="342.31" r="1.8"/><circle cx="263.31" cy="341.9" r="1.8"/><circle cx="265.96" cy="343.46" r="1.8"/><circle cx="268.5" cy="343.54" r="1.8"/><circle cx="270.92" cy="344.12" r="1.8"/><circle cx="273.26" cy="344.78" r="1.8"/><circle cx="275.5" cy="344.67" r="1.8"/><circle cx="277.66" cy="344.45" r="1.8"/><circle cx="279.74" cy="344.97" r="1.8"/><circle cx="281.75" cy="344.61" r="1.8"/><circle cx="283.69" cy="344.87" r="1.8"/><circle cx="285.57" cy="344.88" r="1.8"/><circle cx="287.39" cy="344.73" r="1.8"/><circle cx="289.16" cy="345.02" r="1.8"/><circle cx="290.87" cy="344.99" r="1.8"/><circle cx="292.54" cy="344.92" r="1.8"/><circle cx="294.16" cy="344.79" r="1.8"/><circle cx="295.73" cy="345.19" r="1.8"/><circle cx="297.27" cy="344.95" r="1.8"/><circle cx="298.76" cy="345.05" r="1.8"/><circle cx="300.22" cy="345.12" r="1.8"/><circle cx="301.64" cy="345.29" r="1.8"/><circle cx="303.03" cy="345.35" r="1.8"/><circle cx="304.38" cy="345.55" r="1.8"/><circle cx="305.71" cy="345.53" r="1.8"/><circle cx="307" cy="345.6" r="1.8"/><circle cx="308.27" cy="345.24" r="1.8"/><circle cx="309.51" cy="345.55" r="1.8"/><circle cx="310.72" cy="345.63" r="1.8"/><circle cx="311.91" cy="345.7" r="1.8"/></g>
<path d="M44.1 329.21 L108.13 254.83 L137.9 242 L157.51 240.29 L172.16 240.86 L183.85 240.36 L193.59 240.36 L201.93 240.12 L209.23 239.79 L215.71 239.51 L221.54 239.77 L226.84 239.22 L231.7 238.94 L236.19 238.59 L240.35 238.12 L244.24 238.03 L247.88 237.68 L251.31 237.46 L254.55 236.85 L257.62 236.84 L260.54 236.49 L263.31 236.24 L265.96 236.65 L268.5 236.22 L270.92 235.72 L273.26 235.7 L275.5 236.23 L277.66 236.18 L279.74 235.85 L281.75 236.11 L283.69 235.9 L285.57 235.99 L287.39 235.43 L289.16 235.28 L290.87 235.13 L292.54 235.71 L294.16 235.16 L295.73 235.14 L297.27 235.52 L298.76 234.82 L300.22 234.69 L301.64 235.27 L303.03 234.58 L304.38 235 L305.71 234.87 L307 234.38 L308.27 234.46 L309.51 234.99 L310.72 234.7 L311.91 234.58" stroke="#5ad85a" stroke-width="1.1" fill="none"/>
<path d="M44.1 327.22V331.21M41.35 327.22h5.5M41.35 331.21h5.5M108.13 252.41V257.25M105.38 252.41h5.5M105.38 257.25h5.5M137.9 239.38V244.63M135.15 239.38h5.5M135.15 244.63h5.5M157.51 237.54V243.05M154.76 237.54h5.5M154.76 243.05h5.5M172.16 238.01V243.71M169.41 238.01h5.5M169.41 243.71h5.5M183.85 237.48V243.24M181.1 237.48h5.5M181.1 243.24h5.5M193.59 237.46V243.26M190.84 237.46h5.5M190.84 243.26h5.5M201.93 237.2V243.05M199.18 237.2h5.5M199.18 243.05h5.5M209.23 236.85V242.73M206.48 236.85h5.5M206.48 242.73h5.5M215.71 236.55V242.46M212.96 236.55h5.5M212.96 242.46h5.5M221.54 236.81V242.74M218.79 236.81h5.5M218.79 242.74h5.5M226.84 236.24V242.2M224.09 236.24h5.5M224.09 242.2h5.5M231.7 235.95V241.93M228.95 235.95h5.5M228.95 241.93h5.5M236.19 235.51V241.67M233.44 235.51h5.5M233.44 241.67h5.5M240.35 234.96V241.28M237.6 234.96h5.5M237.6 241.28h5.5M244.24 234.79V241.27M241.49 234.79h5.5M241.49 241.27h5.5M247.88 234.37V240.99M245.13 234.37h5.5M245.13 240.99h5.5M251.31 234.09V240.84M248.56 234.09h5.5M248.56 240.84h5.5M254.55 233.41V240.28M251.8 233.41h5.5M251.8 240.28h5.5M257.62 233.34V240.34M254.87 233.34h5.5M254.87 240.34h5.5M260.54 232.93V240.05M257.79 232.93h5.5M257.79 240.05h5.5M263.31 232.63V239.85M260.56 232.63h5.5M260.56 239.85h5.5M265.96 232.98V240.31M263.21 232.98h5.5M263.21 240.31h5.5M268.5 232.5V239.93M265.75 232.5h5.5M265.75 239.93h5.5M270.92 231.96V239.48M268.17 231.96h5.5M268.17 239.48h5.5M273.26 231.89V239.5M270.51 231.89h5.5M270.51 239.5h5.5M275.5 232.38V240.08M272.75 232.38h5.5M272.75 240.08h5.5M277.66 232.29V240.07M274.91 232.29h5.5M274.91 240.07h5.5M279.74 231.92V239.78M276.99 231.92h5.5M276.99 239.78h5.5M281.75 232.13V240.08M279 232.13h5.5M279 240.08h5.5M283.69 231.88V239.93M280.94 231.88h5.5M280.94 239.93h5.5M285.57 231.89V240.09M282.82 231.89h5.5M282.82 240.09h5.5M287.39 231.26V239.6M284.64 231.26h5.5M284.64 239.6h5.5M289.16 231.04V239.52M286.41 231.04h5.5M286.41 239.52h5.5M290.87 230.83V239.44M288.12 230.83h5.5M288.12 239.44h5.5M292.54 231.34V240.08M289.79 231.34h5.5M289.79 240.08h5.5M294.16 230.73V239.6M291.41 230.73h5.5M291.41 239.6h5.5M295.73 230.64V239.64M292.98 230.64h5.5M292.98 239.64h5.5M297.27 230.96V240.08M294.52 230.96h5.5M294.52 240.08h5.5M298.76 230.21V239.44M296.01 230.21h5.5M296.01 239.44h5.5M300.22 230.02V239.36M297.47 230.02h5.5M297.47 239.36h5.5M301.64 230.54V240M298.89 230.54h5.5M298.89 240h5.5M303.03 229.8V239.37M300.28 229.8h5.5M300.28 239.37h5.5M304.38 230.16V239.84M301.63 230.16h5.5M301.63 239.84h5.5M305.71 229.98V239.76M302.96 229.98h5.5M302.96 239.76h5.5M307 229.45V239.32M304.25 229.45h5.5M304.25 239.32h5.5M308.27 229.48V239.45M305.52 229.48h5.5M305.52 239.45h5.5M309.51 229.95V240.02M306.76 229.95h5.5M306.76 240.02h5.5M310.72 229.62V239.79M307.97 229.62h5.5M307.97 239.79h5.5M311.91 229.45V239.71M309.16 229.45h5.5M309.16 239.71h5.5" stroke="#40f440" stroke-width="0.95" fill="none"/>
<g fill="#40f440"><path d="M44.1 326.96l2.07 3.69h-4.14z"/><path d="M108.13 252.58l2.07 3.69h-4.14z"/><path d="M137.9 239.75l2.07 3.69h-4.14z"/><path d="M157.51 238.04l2.07 3.69h-4.14z"/><path d="M172.16 238.61l2.07 3.69h-4.14z"/><path d="M183.85 238.11l2.07 3.69h-4.14z"/><path d="M193.59 238.11l2.07 3.69h-4.14z"/><path d="M201.93 237.87l2.07 3.69h-4.14z"/><path d="M209.23 237.54l2.07 3.69h-4.14z"/><path d="M215.71 237.26l2.07 3.69h-4.14z"/><path d="M221.54 237.52l2.07 3.69h-4.14z"/><path d="M226.84 236.97l2.07 3.69h-4.14z"/><path d="M231.7 236.69l2.07 3.69h-4.14z"/><path d="M236.19 236.34l2.07 3.69h-4.14z"/><path d="M240.35 235.87l2.07 3.69h-4.14z"/><path d="M244.24 235.78l2.07 3.69h-4.14z"/><path d="M247.88 235.43l2.07 3.69h-4.14z"/><path d="M251.31 235.21l2.07 3.69h-4.14z"/><path d="M254.55 234.6l2.07 3.69h-4.14z"/><path d="M257.62 234.59l2.07 3.69h-4.14z"/><path d="M260.54 234.24l2.07 3.69h-4.14z"/><path d="M263.31 233.99l2.07 3.69h-4.14z"/><path d="M265.96 234.4l2.07 3.69h-4.14z"/><path d="M268.5 233.97l2.07 3.69h-4.14z"/><path d="M270.92 233.47l2.07 3.69h-4.14z"/><path d="M273.26 233.45l2.07 3.69h-4.14z"/><path d="M275.5 233.98l2.07 3.69h-4.14z"/><path d="M277.66 233.93l2.07 3.69h-4.14z"/><path d="M279.74 233.6l2.07 3.69h-4.14z"/><path d="M281.75 233.86l2.07 3.69h-4.14z"/><path d="M283.69 233.65l2.07 3.69h-4.14z"/><path d="M285.57 233.74l2.07 3.69h-4.14z"/><path d="M287.39 233.18l2.07 3.69h-4.14z"/><path d="M289.16 233.03l2.07 3.69h-4.14z"/><path d="M290.87 232.88l2.07 3.69h-4.14z"/><path d="M292.54 233.46l2.07 3.69h-4.14z"/><path d="M294.16 232.91l2.07 3.69h-4.14z"/><path d="M295.73 232.89l2.07 3.69h-4.14z"/><path d="M297.27 233.27l2.07 3.69h-4.14z"/><path d="M298.76 232.57l2.07 3.69h-4.14z"/><path d="M300.22 232.44l2.07 3.69h-4.14z"/><path d="M301.64 233.02l2.07 3.69h-4.14z"/><path d="M303.03 232.33l2.07 3.69h-4.14z"/><path d="M304.38 232.75l2.07 3.69h-4.14z"/><path d="M305.71 232.62l2.07 3.69h-4.14z"/><path d="M307 232.13l2.07 3.69h-4.14z"/><path d="M308.27 232.21l2.07 3.69h-4.14z"/><path d="M309.51 232.74l2.07 3.69h-4.14z"/><path d="M310.72 232.45l2.07 3.69h-4.14z"/><path d="M311.91 232.33l2.07 3.69h-4.14z"/></g>
<path d="M405.3 368.78 L469.33 368.63 L499.1 368.81 L518.71 368.57 L533.36 368.52 L545.05 368.11 L554.79 368.36 L563.13 368.03 L570.43 368.43 L576.91 368.38 L582.74 368.27 L588.04 368.25 L592.9 369.1 L597.39 369.38 L601.55 363.13 L605.44 364.84 L609.08 368.14 L612.51 368.04 L615.75 367.87 L618.82 368.24 L621.74 368.36 L624.51 368 L627.16 367.85 L629.7 367.98 L632.12 362.28 L634.46 368.04 L636.7 365.12 L638.86 367.8 L640.94 367.75 L642.95 367.88 L644.89 368.34 L646.77 361.14 L648.59 363.42 L650.36 367.9 L652.07 367.85 L653.74 368.33 L655.36 367.79 L656.93 367.93 L658.47 368.26 L659.96 360.01 L661.42 368.11 L662.84 368.14 L664.23 367.59 L665.58 368.01 L666.91 367.79 L668.2 367.83 L669.47 368.21 L670.71 357.17 L671.92 368.04 L673.11 368.24" stroke="#c82828" stroke-width="1.1" fill="none"/>
<g fill="#f41414"><rect x="403.4" y="366.88" width="3.8" height="3.8" rx="0.6"/><rect x="467.43" y="366.73" width="3.8" height="3.8" rx="0.6"/><rect x="497.2" y="366.91" width="3.8" height="3.8" rx="0.6"/><rect x="516.81" y="366.67" width="3.8" height="3.8" rx="0.6"/><rect x="531.46" y="366.62" width="3.8" height="3.8" rx="0.6"/><rect x="543.15" y="366.21" width="3.8" height="3.8" rx="0.6"/><rect x="552.89" y="366.46" width="3.8" height="3.8" rx="0.6"/><rect x="561.23" y="366.13" width="3.8" height="3.8" rx="0.6"/><rect x="568.53" y="366.53" width="3.8" height="3.8" rx="0.6"/><rect x="575.01" y="366.48" width="3.8" height="3.8" rx="0.6"/><rect x="580.84" y="366.37" width="3.8" height="3.8" rx="0.6"/><rect x="586.14" y="366.35" width="3.8" height="3.8" rx="0.6"/><rect x="591" y="367.2" width="3.8" height="3.8" rx="0.6"/><rect x="595.49" y="367.48" width="3.8" height="3.8" rx="0.6"/><rect x="599.65" y="361.23" width="3.8" height="3.8" rx="0.6"/><rect x="603.54" y="362.94" width="3.8" height="3.8" rx="0.6"/><rect x="607.18" y="366.24" width="3.8" height="3.8" rx="0.6"/><rect x="610.61" y="366.14" width="3.8" height="3.8" rx="0.6"/><rect x="613.85" y="365.97" width="3.8" height="3.8" rx="0.6"/><rect x="616.92" y="366.34" width="3.8" height="3.8" rx="0.6"/><rect x="619.84" y="366.46" width="3.8" height="3.8" rx="0.6"/><rect x="622.61" y="366.1" width="3.8" height="3.8" rx="0.6"/><rect x="625.26" y="365.95" width="3.8" height="3.8" rx="0.6"/><rect x="627.8" y="366.08" width="3.8" height="3.8" rx="0.6"/><rect x="630.22" y="360.38" width="3.8" height="3.8" rx="0.6"/><rect x="632.56" y="366.14" width="3.8" height="3.8" rx="0.6"/><rect x="634.8" y="363.22" width="3.8" height="3.8" rx="0.6"/><rect x="636.96" y="365.9" width="3.8" height="3.8" rx="0.6"/><rect x="639.04" y="365.85" width="3.8" height="3.8" rx="0.6"/><rect x="641.05" y="365.98" width="3.8" height="3.8" rx="0.6"/><rect x="642.99" y="366.44" width="3.8" height="3.8" rx="0.6"/><rect x="644.87" y="359.24" width="3.8" height="3.8" rx="0.6"/><rect x="646.69" y="361.52" width="3.8" height="3.8" rx="0.6"/><rect x="648.46" y="366" width="3.8" height="3.8" rx="0.6"/><rect x="650.17" y="365.95" width="3.8" height="3.8" rx="0.6"/><rect x="651.84" y="366.43" width="3.8" height="3.8" rx="0.6"/><rect x="653.46" y="365.89" width="3.8" height="3.8" rx="0.6"/><rect x="655.03" y="366.03" width="3.8" height="3.8" rx="0.6"/><rect x="656.57" y="366.36" width="3.8" height="3.8" rx="0.6"/><rect x="658.06" y="358.11" width="3.8" height="3.8" rx="0.6"/><rect x="659.52" y="366.21" width="3.8" height="3.8" rx="0.6"/><rect x="660.94" y="366.24" width="3.8" height="3.8" rx="0.6"/><rect x="662.33" y="365.69" width="3.8" height="3.8" rx="0.6"/><rect x="663.68" y="366.11" width="3.8" height="3.8" rx="0.6"/><rect x="665.01" y="365.89" width="3.8" height="3.8" rx="0.6"/><rect x="666.3" y="365.93" width="3.8" height="3.8" rx="0.6"/><rect x="667.57" y="366.31" width="3.8" height="3.8" rx="0.6"/><rect x="668.81" y="355.27" width="3.8" height="3.8" rx="0.6"/><rect x="670.02" y="366.14" width="3.8" height="3.8" rx="0.6"/><rect x="671.21" y="366.34" width="3.8" height="3.8" rx="0.6"/></g>
<path d="M405.3 370.01 L469.33 369.88 L499.1 369.67 L518.71 369.61 L533.36 369.46 L545.05 369.02 L554.79 369.32 L563.13 369.23 L570.43 369.34 L576.91 369.05 L582.74 369.15 L588.04 369.22 L592.9 366.54 L597.39 369.14 L601.55 368.97 L605.44 369.24 L609.08 368.7 L612.51 368.69 L615.75 368.83 L618.82 368.51 L621.74 368.62 L624.51 368.95 L627.16 368.5 L629.7 368.56 L632.12 368.85 L634.46 368.65 L636.7 368.48 L638.86 368.58 L640.94 368.51 L642.95 368.73 L644.89 368.77 L646.77 368.77 L648.59 368.53 L650.36 368.48 L652.07 368.54 L653.74 368.37 L655.36 368.51 L656.93 368.42 L658.47 368.37 L659.96 368.7 L661.42 368.35 L662.84 368.34 L664.23 368.45 L665.58 368.45 L666.91 368.3 L668.2 368.35 L669.47 368.59 L670.71 368.28 L671.92 368.36 L673.11 368.61" stroke="#1a1a1a" stroke-width="1.1" fill="none"/>
<path d="M405.3 369.02V371.01M402.55 369.02h5.5M402.55 371.01h5.5M469.33 368.89V370.88M466.58 368.89h5.5M466.58 370.88h5.5M499.1 368.68V370.67M496.35 368.68h5.5M496.35 370.67h5.5M518.71 368.62V370.6M515.96 368.62h5.5M515.96 370.6h5.5M533.36 368.46V370.45M530.61 368.46h5.5M530.61 370.45h5.5M545.05 368.02V370.01M542.3 368.02h5.5M542.3 370.01h5.5M554.79 368.33V370.32M552.04 368.33h5.5M552.04 370.32h5.5M563.13 368.24V370.23M560.38 368.24h5.5M560.38 370.23h5.5M570.43 368.35V370.33M567.68 368.35h5.5M567.68 370.33h5.5M576.91 368.06V370.05M574.16 368.06h5.5M574.16 370.05h5.5M582.74 368.16V370.15M579.99 368.16h5.5M579.99 370.15h5.5M588.04 368.23V370.21M585.29 368.23h5.5M585.29 370.21h5.5M592.9 365.55V367.53M590.15 365.55h5.5M590.15 367.53h5.5M597.39 368.14V370.13M594.64 368.14h5.5M594.64 370.13h5.5M601.55 367.98V369.97M598.8 367.98h5.5M598.8 369.97h5.5M605.44 368.24V370.23M602.69 368.24h5.5M602.69 370.23h5.5M609.08 367.7V369.69M606.33 367.7h5.5M606.33 369.69h5.5M612.51 367.7V369.68M609.76 367.7h5.5M609.76 369.68h5.5M615.75 367.84V369.83M613 367.84h5.5M613 369.83h5.5M618.82 367.52V369.5M616.07 367.52h5.5M616.07 369.5h5.5M621.74 367.63V369.62M618.99 367.63h5.5M618.99 369.62h5.5M624.51 367.96V369.95M621.76 367.96h5.5M621.76 369.95h5.5M627.16 367.51V369.49M624.41 367.51h5.5M624.41 369.49h5.5M629.7 367.57V369.56M626.95 367.57h5.5M626.95 369.56h5.5M632.12 367.86V369.85M629.37 367.86h5.5M629.37 369.85h5.5M634.46 367.66V369.64M631.71 367.66h5.5M631.71 369.64h5.5M636.7 367.49V369.47M633.95 367.49h5.5M633.95 369.47h5.5M638.86 367.58V369.57M636.11 367.58h5.5M636.11 369.57h5.5M640.94 367.52V369.51M638.19 367.52h5.5M638.19 369.51h5.5M642.95 367.74V369.73M640.2 367.74h5.5M640.2 369.73h5.5M644.89 367.77V369.76M642.14 367.77h5.5M642.14 369.76h5.5M646.77 367.78V369.76M644.02 367.78h5.5M644.02 369.76h5.5M648.59 367.53V369.52M645.84 367.53h5.5M645.84 369.52h5.5M650.36 367.49V369.47M647.61 367.49h5.5M647.61 369.47h5.5M652.07 367.54V369.53M649.32 367.54h5.5M649.32 369.53h5.5M653.74 367.37V369.36M650.99 367.37h5.5M650.99 369.36h5.5M655.36 367.51V369.5M652.61 367.51h5.5M652.61 369.5h5.5M656.93 367.42V369.41M654.18 367.42h5.5M654.18 369.41h5.5M658.47 367.37V369.36M655.72 367.37h5.5M655.72 369.36h5.5M659.96 367.7V369.69M657.21 367.7h5.5M657.21 369.69h5.5M661.42 367.36V369.35M658.67 367.36h5.5M658.67 369.35h5.5M662.84 367.34V369.33M660.09 367.34h5.5M660.09 369.33h5.5M664.23 367.46V369.45M661.48 367.46h5.5M661.48 369.45h5.5M665.58 367.46V369.45M662.83 367.46h5.5M662.83 369.45h5.5M666.91 367.3V369.29M664.16 367.3h5.5M664.16 369.29h5.5M668.2 367.36V369.34M665.45 367.36h5.5M665.45 369.34h5.5M669.47 367.6V369.59M666.72 367.6h5.5M666.72 369.59h5.5M670.71 367.29V369.28M667.96 367.29h5.5M667.96 369.28h5.5M671.92 367.37V369.36M669.17 367.37h5.5M669.17 369.36h5.5M673.11 367.62V369.61M670.36 367.62h5.5M670.36 369.61h5.5" stroke="#000000" stroke-width="0.95" fill="none"/>
<g fill="#000000"><circle cx="405.3" cy="370.01" r="1.8"/><circle cx="469.33" cy="369.88" r="1.8"/><circle cx="499.1" cy="369.67" r="1.8"/><circle cx="518.71" cy="369.61" r="1.8"/><circle cx="533.36" cy="369.46" r="1.8"/><circle cx="545.05" cy="369.02" r="1.8"/><circle cx="554.79" cy="369.32" r="1.8"/><circle cx="563.13" cy="369.23" r="1.8"/><circle cx="570.43" cy="369.34" r="1.8"/><circle cx="576.91" cy="369.05" r="1.8"/><circle cx="582.74" cy="369.15" r="1.8"/><circle cx="588.04" cy="369.22" r="1.8"/><circle cx="592.9" cy="366.54" r="1.8"/><circle cx="597.39" cy="369.14" r="1.8"/><circle cx="601.55" cy="368.97" r="1.8"/><circle cx="605.44" cy="369.24" r="1.8"/><circle cx="609.08" cy="368.7" r="1.8"/><circle cx="612.51" cy="368.69" r="1.8"/><circle cx="615.75" cy="368.83" r="1.8"/><circle cx="618.82" cy="368.51" r="1.8"/><circle cx="621.74" cy="368.62" r="1.8"/><circle cx="624.51" cy="368.95" r="1.8"/><circle cx="627.16" cy="368.5" r="1.8"/><circle cx="629.7" cy="368.56" r="1.8"/><circle cx="632.12" cy="368.85" r="1.8"/><circle cx="634.46" cy="368.65" r="1.8"/><circle cx="636.7" cy="368.48" r="1.8"/><circle cx="638.86" cy="368.58" r="1.8"/><circle cx="640.94" cy="368.51" r="1.8"/><circle cx="642.95" cy="368.73" r="1.8"/><circle cx="644.89" cy="368.77" r="1.8"/><circle cx="646.77" cy="368.77" r="1.8"/><circle cx="648.59" cy="368.53" r="1.8"/><circle cx="650.36" cy="368.48" r="1.8"/><circle cx="652.07" cy="368.54" r="1.8"/><circle cx="653.74" cy="368.37" r="1.8"/><circle cx="655.36" cy="368.51" r="1.8"/><circle cx="656.93" cy="368.42" r="1.8"/><circle cx="658.47" cy="368.37" r="1.8"/><circle cx="659.96" cy="368.7" r="1.8"/><circle cx="661.42" cy="368.35" r="1.8"/><circle cx="662.84" cy="368.34" r="1.8"/><circle cx="664.23" cy="368.45" r="1.8"/><circle cx="665.58" cy="368.45" r="1.8"/><circle cx="666.91" cy="368.3" r="1.8"/><circle cx="668.2" cy="368.35" r="1.8"/><circle cx="669.47" cy="368.59" r="1.8"/><circle cx="670.71" cy="368.28" r="1.8"/><circle cx="671.92" cy="368.36" r="1.8"/><circle cx="673.11" cy="368.61" r="1.8"/></g>
<path d="M405.3 341.55 L469.33 349.78 L499.1 338.99 L518.71 338.14 L533.36 328.48 L545.05 326.78 L554.79 326.78 L563.13 326.5 L570.43 312.58 L576.91 315.7 L582.74 311.73 L588.04 312.86 L592.9 301.79 L597.39 300.08 L601.55 299.23 L605.44 300.65 L609.08 296.11 L612.51 296.68 L615.75 286.45 L618.82 283.04 L621.74 285.6 L624.51 286.17 L627.16 285.32 L629.7 284.18 L632.12 271.4 L634.46 273.1 L636.7 272.25 L638.86 270.26 L640.94 268.84 L642.95 268.28 L644.89 270.26 L646.77 267.14 L648.59 256.92 L650.36 257.48 L652.07 257.2 L653.74 255.5 L655.36 253.51 L656.93 254.36 L658.47 254.93 L659.96 253.51 L661.42 240.73 L662.84 243 L664.23 244.7 L665.58 242.43 L666.91 240.44 L668.2 238.74 L669.47 240.73 L670.71 242.72 L671.92 238.74 L673.11 230.79" stroke="#5ad85a" stroke-width="1.1" fill="none"/>
<g fill="#40f440"><path d="M405.3 338.67l2.64 4.71h-5.29z"/><path d="M469.33 346.91l2.64 4.71h-5.29z"/><path d="M499.1 336.12l2.64 4.71h-5.29z"/><path d="M518.71 335.26l2.64 4.71h-5.29z"/><path d="M533.36 325.61l2.64 4.71h-5.29z"/><path d="M545.05 323.91l2.64 4.71h-5.29z"/><path d="M554.79 323.91l2.64 4.71h-5.29z"/><path d="M563.13 323.62l2.64 4.71h-5.29z"/><path d="M570.43 309.71l2.64 4.71h-5.29z"/><path d="M576.91 312.83l2.64 4.71h-5.29z"/><path d="M582.74 308.85l2.64 4.71h-5.29z"/><path d="M588.04 309.99l2.64 4.71h-5.29z"/><path d="M592.9 298.91l2.64 4.71h-5.29z"/><path d="M597.39 297.21l2.64 4.71h-5.29z"/><path d="M601.55 296.36l2.64 4.71h-5.29z"/><path d="M605.44 297.78l2.64 4.71h-5.29z"/><path d="M609.08 293.23l2.64 4.71h-5.29z"/><path d="M612.51 293.8l2.64 4.71h-5.29z"/><path d="M615.75 283.58l2.64 4.71h-5.29z"/><path d="M618.82 280.17l2.64 4.71h-5.29z"/><path d="M621.74 282.73l2.64 4.71h-5.29z"/><path d="M624.51 283.29l2.64 4.71h-5.29z"/><path d="M627.16 282.44l2.64 4.71h-5.29z"/><path d="M629.7 281.31l2.64 4.71h-5.29z"/><path d="M632.12 268.53l2.64 4.71h-5.29z"/><path d="M634.46 270.23l2.64 4.71h-5.29z"/><path d="M636.7 269.38l2.64 4.71h-5.29z"/><path d="M638.86 267.39l2.64 4.71h-5.29z"/><path d="M640.94 265.97l2.64 4.71h-5.29z"/><path d="M642.95 265.4l2.64 4.71h-5.29z"/><path d="M644.89 267.39l2.64 4.71h-5.29z"/><path d="M646.77 264.26l2.64 4.71h-5.29z"/><path d="M648.59 254.04l2.64 4.71h-5.29z"/><path d="M650.36 254.61l2.64 4.71h-5.29z"/><path d="M652.07 254.33l2.64 4.71h-5.29z"/><path d="M653.74 252.62l2.64 4.71h-5.29z"/><path d="M655.36 250.63l2.64 4.71h-5.29z"/><path d="M656.93 251.49l2.64 4.71h-5.29z"/><path d="M658.47 252.05l2.64 4.71h-5.29z"/><path d="M659.96 250.63l2.64 4.71h-5.29z"/><path d="M661.42 237.85l2.64 4.71h-5.29z"/><path d="M662.84 240.12l2.64 4.71h-5.29z"/><path d="M664.23 241.83l2.64 4.71h-5.29z"/><path d="M665.58 239.56l2.64 4.71h-5.29z"/><path d="M666.91 237.57l2.64 4.71h-5.29z"/><path d="M668.2 235.87l2.64 4.71h-5.29z"/><path d="M669.47 237.85l2.64 4.71h-5.29z"/><path d="M670.71 239.84l2.64 4.71h-5.29z"/><path d="M671.92 235.87l2.64 4.71h-5.29z"/><path d="M673.11 227.91l2.64 4.71h-5.29z"/></g>
</svg>
</body></html>
